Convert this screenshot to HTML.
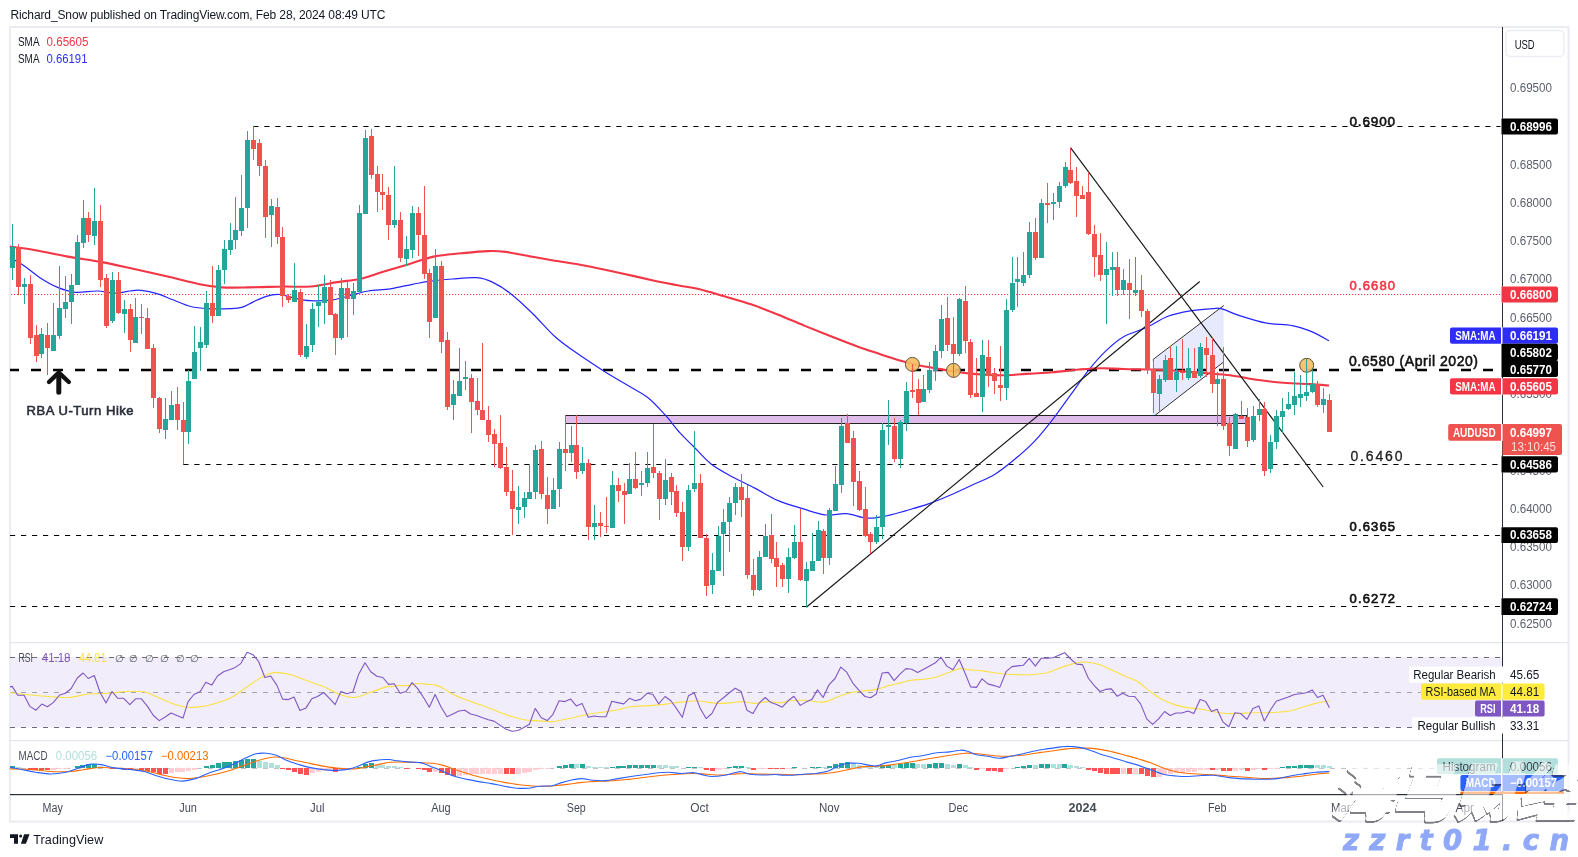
<!DOCTYPE html>
<html><head><meta charset="utf-8"><title>AUDUSD chart</title>
<style>html,body{margin:0;padding:0;background:#fff}body{width:1578px;height:857px;position:relative;overflow:hidden;font-family:"Liberation Sans", Arial, sans-serif}</style></head>
<body>
<svg width="1578" height="857" viewBox="0 0 1578 857" style="position:absolute;left:0;top:0;will-change:transform;opacity:0.9999;font-family:'Liberation Sans', Arial, sans-serif">
<rect x="0" y="0" width="1578" height="857" fill="#fff"/>
<rect x="10" y="27" width="1558.5" height="794.5" fill="none" stroke="#ebecf3" stroke-width="2"/>
<rect x="10" y="642" width="1558" height="1.2" fill="#e3e5ec"/>
<rect x="10" y="740" width="1558" height="1.2" fill="#e3e5ec"/>
<rect x="11" y="657" width="1491" height="70.5" fill="#f1edfa"/>
<line x1="10" y1="657.5" x2="1502" y2="657.5" stroke="#6a6d78" stroke-width="1.1" stroke-dasharray="5 6"/>
<line x1="10" y1="692.5" x2="1502" y2="692.5" stroke="#9fa2ab" stroke-width="1.1" stroke-dasharray="5 6"/>
<line x1="10" y1="727.5" x2="1502" y2="727.5" stroke="#6a6d78" stroke-width="1.1" stroke-dasharray="5 6"/>
<path d="M10.1,692.5 C12.7,692.8 19.4,693.9 25.3,694.5 C31.3,695.1 38.4,695.8 45.6,696.3 C52.8,696.8 61.3,697.9 68.4,697.5 C75.6,697.2 82.0,694.7 88.7,694.0 C95.5,693.3 102.7,693.7 109.0,693.2 C115.3,692.8 120.8,691.7 126.7,691.5 C132.7,691.2 139.4,691.0 144.5,692.0 C149.6,692.9 152.5,695.1 157.2,697.0 C161.8,698.9 167.3,701.7 172.4,703.4 C177.4,705.1 182.5,706.7 187.6,707.2 C192.6,707.7 197.7,707.2 202.8,706.4 C207.9,705.7 213.4,704.0 218.0,702.6 C222.6,701.2 226.4,700.0 230.7,697.8 C234.9,695.6 239.1,692.3 243.3,689.4 C247.6,686.6 252.2,683.0 256.0,680.6 C259.8,678.1 262.8,676.3 266.2,675.0 C269.5,673.6 272.1,672.4 276.3,672.4 C280.5,672.4 286.4,673.6 291.5,675.0 C296.6,676.3 301.2,678.6 306.7,680.6 C312.2,682.5 319.0,684.6 324.5,686.9 C330.0,689.2 334.6,692.7 339.7,694.5 C344.7,696.3 349.8,697.9 354.9,697.5 C359.9,697.2 364.6,694.3 370.1,692.5 C375.6,690.6 384.5,687.3 387.8,686.4 C391.2,685.5 388.4,687.0 390.0,686.9 C391.6,686.8 394.6,685.8 397.6,685.6 C400.6,685.4 404.4,686.0 407.7,685.6 C411.1,685.3 414.5,683.8 417.9,683.6 C421.3,683.4 425.1,684.1 428.0,684.4 C431.0,684.6 433.1,684.5 435.6,685.1 C438.2,685.8 440.7,686.8 443.2,688.2 C445.8,689.5 447.5,691.5 450.8,693.2 C454.2,695.0 459.3,697.1 463.5,698.8 C467.7,700.5 472.0,701.9 476.2,703.4 C480.4,704.9 484.6,706.3 488.9,707.9 C493.1,709.5 497.3,711.4 501.5,713.0 C505.8,714.6 510.4,716.2 514.2,717.3 C518.0,718.5 521.0,719.3 524.3,719.8 C527.7,720.4 531.1,720.4 534.5,720.6 C537.9,720.8 541.7,720.9 544.6,721.1 C547.6,721.3 549.3,721.8 552.2,721.6 C555.2,721.4 559.0,720.5 562.4,719.8 C565.7,719.2 569.1,718.5 572.5,717.8 C575.9,717.1 579.3,716.3 582.6,715.5 C586.0,714.8 589.0,714.1 592.8,713.5 C596.6,712.9 601.2,712.4 605.5,711.7 C609.7,711.1 613.9,710.6 618.1,709.7 C622.4,708.9 626.6,707.3 630.8,706.7 C635.0,706.0 639.3,706.2 643.5,705.9 C647.7,705.7 652.4,705.4 656.2,705.1 C660.0,704.9 662.9,704.6 666.3,704.1 C669.7,703.7 673.1,703.0 676.4,702.6 C679.8,702.2 683.2,701.9 686.6,701.6 C690.0,701.3 693.3,700.8 696.7,700.8 C700.1,700.9 703.5,701.7 706.9,702.1 C710.2,702.5 713.2,703.2 717.0,703.4 C720.8,703.5 725.4,703.2 729.7,702.9 C733.9,702.6 738.1,701.5 742.3,701.6 C746.6,701.7 750.8,703.4 755.0,703.4 C759.2,703.4 763.5,701.7 767.7,701.6 C771.9,701.5 776.4,703.0 780.2,702.9 C783.9,702.7 785.9,701.3 790.1,700.8 C794.3,700.4 799.9,700.1 805.3,700.3 C810.8,700.5 818.0,702.5 823.1,702.1 C828.2,701.7 831.5,699.3 835.8,697.8 C840.0,696.3 844.2,694.3 848.4,693.2 C852.7,692.1 856.5,691.8 861.1,691.2 C865.8,690.6 871.7,690.4 876.3,689.4 C881.0,688.5 884.8,686.8 889.0,685.6 C893.2,684.5 897.9,683.5 901.7,682.6 C905.5,681.7 908.0,680.6 911.8,680.1 C915.6,679.5 920.7,679.7 924.5,679.3 C928.3,678.9 930.8,678.6 934.6,677.5 C938.4,676.5 943.1,674.4 947.3,673.0 C951.5,671.5 956.2,669.2 960.0,668.6 C963.8,668.1 966.3,669.5 970.1,669.9 C973.9,670.3 978.6,670.4 982.8,670.9 C987.0,671.4 991.2,672.4 995.5,673.0 C999.7,673.5 1003.5,673.9 1008.1,674.2 C1012.8,674.5 1018.7,674.7 1023.3,674.7 C1028.0,674.7 1032.2,674.5 1036.0,674.2 C1039.8,673.9 1042.4,673.9 1046.2,673.0 C1050.0,672.0 1054.6,669.9 1058.8,668.4 C1063.1,666.9 1067.7,665.1 1071.5,664.1 C1075.3,663.0 1078.3,662.3 1081.6,662.1 C1085.0,661.8 1088.7,662.3 1091.8,662.8 C1094.8,663.3 1096.5,663.6 1100.0,664.8 C1103.5,666.1 1108.4,668.5 1112.7,670.4 C1116.9,672.3 1121.1,674.3 1125.3,676.2 C1129.6,678.1 1133.8,679.2 1138.0,681.8 C1142.2,684.4 1146.5,688.9 1150.7,692.0 C1154.9,695.0 1159.1,697.9 1163.4,700.1 C1167.6,702.3 1171.8,703.8 1176.0,705.1 C1180.3,706.5 1184.5,707.3 1188.7,707.9 C1192.9,708.6 1197.2,708.6 1201.4,709.2 C1205.6,709.8 1209.8,711.0 1214.1,711.7 C1218.3,712.5 1222.5,713.2 1226.7,713.5 C1231.0,713.8 1235.2,713.6 1239.4,713.5 C1243.6,713.4 1247.9,712.9 1252.1,712.8 C1256.3,712.6 1260.5,712.8 1264.8,712.8 C1269.0,712.7 1273.2,712.5 1277.4,712.2 C1281.7,711.9 1285.9,711.8 1290.1,711.0 C1294.3,710.1 1298.6,708.4 1302.8,707.2 C1307.0,705.9 1311.0,704.4 1315.5,703.4 C1319.9,702.3 1327.1,701.3 1329.4,700.8" fill="none" stroke="#fbe242" stroke-width="1.1"/>
<polyline points="10.1,686.9 12.2,686.4 17.7,695.3 24.1,695.3 29.9,706.4 36.0,710.2 41.8,704.1 47.4,706.7 53.2,702.6 59.6,695.0 65.4,693.2 71.0,688.7 77.3,678.0 83.1,673.0 88.2,678.5 94.3,675.5 100.1,692.5 106.0,702.9 112.0,691.5 117.9,698.3 123.7,698.3 129.8,704.6 135.6,698.8 141.4,698.8 147.5,706.4 153.4,715.5 159.2,720.6 164.8,717.3 171.1,713.0 176.9,715.5 183.0,718.1 188.1,701.6 193.9,694.5 200.3,691.5 205.8,682.3 211.7,685.1 217.5,676.0 223.6,671.7 229.4,669.7 235.2,667.4 240.8,663.6 247.1,652.2 253.0,654.7 258.6,661.5 264.9,677.5 270.7,676.0 276.8,685.1 282.6,699.1 288.5,699.6 294.0,697.0 299.9,710.5 306.0,707.9 311.8,698.8 317.6,696.5 323.7,692.5 329.5,698.3 335.1,704.6 340.9,691.5 346.8,693.7 352.9,692.0 358.7,674.2 365.0,662.8 370.8,671.7 376.9,676.2 382.8,677.5 388.6,684.4 394.2,683.7 400.1,693.2 406.0,691.5 412.1,682.6 417.9,688.9 423.7,697.8 429.3,707.2 435.1,694.5 441.2,707.2 447.0,716.8 452.9,714.0 458.9,711.0 464.8,710.2 470.6,714.0 476.7,715.5 482.5,717.8 488.4,719.8 493.9,721.1 500.3,725.4 506.1,729.2 512.2,731.3 518.0,730.5 523.8,727.5 529.4,724.2 535.2,708.4 541.3,717.8 547.2,720.6 553.0,714.3 559.1,700.8 564.9,701.6 570.7,699.1 576.3,705.9 582.1,703.4 588.2,717.3 594.1,716.0 599.9,716.8 606.0,716.8 611.8,701.3 617.6,702.6 623.7,703.9 629.5,698.3 635.4,700.8 641.0,699.1 647.3,693.2 652.9,694.5 658.7,703.9 665.0,696.5 670.9,700.8 676.4,708.4 682.3,717.3 688.4,695.8 694.2,692.7 700.0,707.9 706.1,718.6 711.9,713.5 717.8,702.1 723.8,697.5 729.7,692.5 735.2,688.2 741.1,691.5 746.9,710.2 753.0,713.5 758.8,703.4 765.2,697.5 771.0,702.6 776.6,704.6 782.2,707.2 788.1,700.8 793.9,696.3 800.3,705.4 805.9,702.1 811.7,699.6 817.5,689.9 823.1,697.5 828.9,684.9 835.0,678.5 840.8,667.1 846.7,672.2 852.8,683.1 858.6,689.9 864.9,696.5 870.5,697.8 876.3,694.0 882.2,673.0 888.2,672.4 894.1,680.6 899.9,674.2 906.0,668.6 911.8,669.2 917.6,672.4 923.7,669.2 929.6,665.9 935.4,662.8 941.0,657.2 946.8,666.1 952.9,669.7 959.2,659.5 965.0,673.0 970.6,686.9 976.5,687.4 982.0,678.8 987.9,683.9 994.2,685.6 999.8,687.4 1006.1,671.7 1011.9,666.6 1017.8,665.9 1023.3,665.3 1029.2,658.3 1035.3,666.1 1041.1,658.3 1046.9,658.3 1053.0,657.7 1058.8,655.2 1064.7,652.7 1070.7,659.0 1076.6,664.1 1082.4,664.6 1088.5,678.5 1094.3,685.6 1100.0,691.5 1105.6,689.4 1111.4,688.9 1117.2,696.3 1122.8,693.2 1128.6,696.3 1134.7,696.5 1140.6,703.9 1146.9,719.1 1152.7,724.4 1158.8,718.6 1164.6,711.5 1170.2,715.5 1176.0,713.0 1181.9,713.0 1188.0,711.0 1193.8,713.5 1200.1,699.6 1205.7,701.6 1211.5,711.5 1217.1,709.2 1222.9,721.9 1228.8,726.7 1234.9,712.8 1240.7,713.5 1247.0,719.3 1252.9,708.4 1258.9,705.9 1264.3,721.1 1270.3,710.2 1276.2,701.3 1282.5,699.1 1288.3,697.0 1294.4,694.5 1300.3,693.7 1306.1,692.7 1312.2,689.9 1317.5,697.5 1323.1,695.3 1329.4,707.7" fill="none" stroke="#7e57c2" stroke-width="1.1" stroke-linejoin="round"/>
<line x1="10" y1="768.4" x2="1502" y2="768.4" stroke="#b8bbc4" stroke-width="1" stroke-dasharray="5 6"/>
<g shape-rendering="crispEdges">
<rect x="10" y="766.4" width="5" height="2.0" fill="#26a69a"/>
<rect x="16" y="767.1" width="5" height="1.3" fill="#b2dfdb"/>
<rect x="22" y="767.6" width="5" height="0.8" fill="#b2dfdb"/>
<rect x="28" y="768.4" width="5" height="1.3" fill="#ff5252"/>
<rect x="33" y="768.4" width="5" height="2.0" fill="#ff5252"/>
<rect x="39" y="768.4" width="5" height="2.0" fill="#ff5252"/>
<rect x="45" y="768.4" width="5" height="2.0" fill="#ff5252"/>
<rect x="51" y="768.4" width="5" height="1.5" fill="#ffcdd2"/>
<rect x="57" y="768.4" width="5" height="1.0" fill="#ffcdd2"/>
<rect x="63" y="768.4" width="5" height="0.6" fill="#ffcdd2"/>
<rect x="69" y="767.6" width="5" height="0.8" fill="#26a69a"/>
<rect x="75" y="766.4" width="5" height="2.0" fill="#26a69a"/>
<rect x="80" y="764.6" width="5" height="3.8" fill="#26a69a"/>
<rect x="86" y="764.1" width="5" height="4.3" fill="#26a69a"/>
<rect x="92" y="764.3" width="5" height="4.1" fill="#26a69a"/>
<rect x="98" y="766.4" width="5" height="2.0" fill="#b2dfdb"/>
<rect x="104" y="767.6" width="5" height="0.8" fill="#b2dfdb"/>
<rect x="110" y="768.4" width="5" height="0.6" fill="#ff5252"/>
<rect x="116" y="768.4" width="5" height="0.8" fill="#ff5252"/>
<rect x="122" y="768.4" width="5" height="1.3" fill="#ff5252"/>
<rect x="128" y="768.4" width="5" height="2.0" fill="#ff5252"/>
<rect x="133" y="768.4" width="5" height="1.3" fill="#ffcdd2"/>
<rect x="139" y="768.4" width="5" height="2.0" fill="#ff5252"/>
<rect x="145" y="768.4" width="5" height="2.5" fill="#ff5252"/>
<rect x="151" y="768.4" width="5" height="3.8" fill="#ff5252"/>
<rect x="157" y="768.4" width="5" height="5.6" fill="#ff5252"/>
<rect x="163" y="768.4" width="5" height="5.1" fill="#ff5252"/>
<rect x="169" y="768.4" width="5" height="4.6" fill="#ffcdd2"/>
<rect x="175" y="768.4" width="5" height="3.8" fill="#ffcdd2"/>
<rect x="180" y="768.4" width="5" height="3.3" fill="#ffcdd2"/>
<rect x="186" y="768.4" width="5" height="2.5" fill="#ffcdd2"/>
<rect x="192" y="768.4" width="5" height="1.3" fill="#ffcdd2"/>
<rect x="198" y="767.6" width="5" height="0.8" fill="#26a69a"/>
<rect x="204" y="765.9" width="5" height="2.5" fill="#26a69a"/>
<rect x="210" y="764.6" width="5" height="3.8" fill="#26a69a"/>
<rect x="216" y="763.3" width="5" height="5.1" fill="#26a69a"/>
<rect x="222" y="762.3" width="5" height="6.1" fill="#26a69a"/>
<rect x="227" y="761.6" width="5" height="6.8" fill="#26a69a"/>
<rect x="233" y="760.8" width="5" height="7.6" fill="#26a69a"/>
<rect x="239" y="760.0" width="5" height="8.4" fill="#26a69a"/>
<rect x="245" y="759.0" width="5" height="9.4" fill="#26a69a"/>
<rect x="251" y="759.0" width="5" height="9.4" fill="#26a69a"/>
<rect x="257" y="761.3" width="5" height="7.1" fill="#b2dfdb"/>
<rect x="263" y="762.1" width="5" height="6.3" fill="#b2dfdb"/>
<rect x="269" y="763.3" width="5" height="5.1" fill="#b2dfdb"/>
<rect x="275" y="765.4" width="5" height="3.0" fill="#b2dfdb"/>
<rect x="280" y="768.4" width="5" height="0.8" fill="#ff5252"/>
<rect x="286" y="768.4" width="5" height="2.0" fill="#ff5252"/>
<rect x="292" y="768.4" width="5" height="3.3" fill="#ff5252"/>
<rect x="298" y="768.4" width="5" height="5.1" fill="#ff5252"/>
<rect x="304" y="768.4" width="5" height="6.3" fill="#ff5252"/>
<rect x="310" y="768.4" width="5" height="4.6" fill="#ffcdd2"/>
<rect x="316" y="768.4" width="5" height="3.8" fill="#ffcdd2"/>
<rect x="322" y="768.4" width="5" height="2.5" fill="#ffcdd2"/>
<rect x="327" y="768.4" width="5" height="2.5" fill="#ffcdd2"/>
<rect x="333" y="768.4" width="5" height="3.3" fill="#ff5252"/>
<rect x="339" y="768.4" width="5" height="1.8" fill="#ffcdd2"/>
<rect x="345" y="768.4" width="5" height="1.3" fill="#ffcdd2"/>
<rect x="351" y="768.4" width="5" height="0.8" fill="#ffcdd2"/>
<rect x="357" y="767.1" width="5" height="1.3" fill="#26a69a"/>
<rect x="363" y="764.1" width="5" height="4.3" fill="#26a69a"/>
<rect x="369" y="763.3" width="5" height="5.1" fill="#26a69a"/>
<rect x="375" y="764.6" width="5" height="3.8" fill="#b2dfdb"/>
<rect x="380" y="765.4" width="5" height="3.0" fill="#b2dfdb"/>
<rect x="386" y="765.9" width="5" height="2.5" fill="#b2dfdb"/>
<rect x="392" y="766.4" width="5" height="2.0" fill="#b2dfdb"/>
<rect x="398" y="767.1" width="5" height="1.3" fill="#b2dfdb"/>
<rect x="404" y="768.4" width="5" height="0.6" fill="#ff5252"/>
<rect x="410" y="767.8" width="5" height="0.6" fill="#26a69a"/>
<rect x="416" y="768.4" width="5" height="0.6" fill="#ff5252"/>
<rect x="422" y="768.4" width="5" height="1.3" fill="#ff5252"/>
<rect x="427" y="768.4" width="5" height="3.8" fill="#ff5252"/>
<rect x="433" y="768.4" width="5" height="3.3" fill="#ffcdd2"/>
<rect x="439" y="768.4" width="5" height="4.6" fill="#ff5252"/>
<rect x="445" y="768.4" width="5" height="6.8" fill="#ff5252"/>
<rect x="451" y="768.4" width="5" height="7.6" fill="#ff5252"/>
<rect x="457" y="768.4" width="5" height="7.1" fill="#ffcdd2"/>
<rect x="463" y="768.4" width="5" height="6.3" fill="#ffcdd2"/>
<rect x="469" y="768.4" width="5" height="5.6" fill="#ffcdd2"/>
<rect x="474" y="768.4" width="5" height="5.6" fill="#ffcdd2"/>
<rect x="480" y="768.4" width="5" height="5.6" fill="#ffcdd2"/>
<rect x="486" y="768.4" width="5" height="5.6" fill="#ffcdd2"/>
<rect x="492" y="768.4" width="5" height="5.6" fill="#ffcdd2"/>
<rect x="498" y="768.4" width="5" height="5.6" fill="#ffcdd2"/>
<rect x="504" y="768.4" width="5" height="5.8" fill="#ff5252"/>
<rect x="510" y="768.4" width="5" height="5.6" fill="#ff5252"/>
<rect x="516" y="768.4" width="5" height="5.1" fill="#ffcdd2"/>
<rect x="522" y="768.4" width="5" height="4.3" fill="#ffcdd2"/>
<rect x="527" y="768.4" width="5" height="3.3" fill="#ffcdd2"/>
<rect x="533" y="768.4" width="5" height="1.3" fill="#ffcdd2"/>
<rect x="539" y="768.4" width="5" height="0.6" fill="#ffcdd2"/>
<rect x="545" y="768.4" width="5" height="0.6" fill="#ffcdd2"/>
<rect x="551" y="767.8" width="5" height="0.6" fill="#26a69a"/>
<rect x="557" y="765.9" width="5" height="2.5" fill="#26a69a"/>
<rect x="563" y="765.1" width="5" height="3.3" fill="#26a69a"/>
<rect x="569" y="763.8" width="5" height="4.6" fill="#26a69a"/>
<rect x="574" y="764.1" width="5" height="4.3" fill="#b2dfdb"/>
<rect x="580" y="763.8" width="5" height="4.6" fill="#26a69a"/>
<rect x="586" y="765.9" width="5" height="2.5" fill="#b2dfdb"/>
<rect x="592" y="767.1" width="5" height="1.3" fill="#b2dfdb"/>
<rect x="598" y="767.1" width="5" height="1.3" fill="#b2dfdb"/>
<rect x="604" y="767.4" width="5" height="1.0" fill="#b2dfdb"/>
<rect x="610" y="766.6" width="5" height="1.8" fill="#26a69a"/>
<rect x="616" y="765.9" width="5" height="2.5" fill="#26a69a"/>
<rect x="621" y="765.9" width="5" height="2.5" fill="#26a69a"/>
<rect x="627" y="764.9" width="5" height="3.5" fill="#26a69a"/>
<rect x="633" y="764.9" width="5" height="3.5" fill="#26a69a"/>
<rect x="639" y="764.9" width="5" height="3.5" fill="#26a69a"/>
<rect x="645" y="764.9" width="5" height="3.5" fill="#26a69a"/>
<rect x="651" y="764.9" width="5" height="3.5" fill="#26a69a"/>
<rect x="657" y="765.1" width="5" height="3.3" fill="#b2dfdb"/>
<rect x="663" y="765.1" width="5" height="3.3" fill="#b2dfdb"/>
<rect x="669" y="765.9" width="5" height="2.5" fill="#b2dfdb"/>
<rect x="674" y="765.9" width="5" height="2.5" fill="#b2dfdb"/>
<rect x="680" y="767.6" width="5" height="0.8" fill="#b2dfdb"/>
<rect x="686" y="766.9" width="5" height="1.5" fill="#26a69a"/>
<rect x="692" y="766.9" width="5" height="1.5" fill="#26a69a"/>
<rect x="698" y="767.1" width="5" height="1.3" fill="#b2dfdb"/>
<rect x="704" y="768.4" width="5" height="1.5" fill="#ff5252"/>
<rect x="710" y="768.4" width="5" height="2.5" fill="#ff5252"/>
<rect x="716" y="768.4" width="5" height="1.3" fill="#ffcdd2"/>
<rect x="721" y="768.4" width="5" height="0.6" fill="#ffcdd2"/>
<rect x="727" y="766.9" width="5" height="1.5" fill="#26a69a"/>
<rect x="733" y="765.9" width="5" height="2.5" fill="#26a69a"/>
<rect x="739" y="765.9" width="5" height="2.5" fill="#26a69a"/>
<rect x="745" y="766.9" width="5" height="1.5" fill="#b2dfdb"/>
<rect x="751" y="768.4" width="5" height="1.5" fill="#ff5252"/>
<rect x="757" y="768.4" width="5" height="0.8" fill="#ffcdd2"/>
<rect x="763" y="768.4" width="5" height="0.6" fill="#ffcdd2"/>
<rect x="768" y="768.4" width="5" height="0.8" fill="#ff5252"/>
<rect x="774" y="768.4" width="5" height="0.8" fill="#ff5252"/>
<rect x="780" y="768.4" width="5" height="0.8" fill="#ff5252"/>
<rect x="786" y="768.4" width="5" height="0.6" fill="#ffcdd2"/>
<rect x="792" y="766.9" width="5" height="1.5" fill="#26a69a"/>
<rect x="798" y="767.8" width="5" height="0.6" fill="#b2dfdb"/>
<rect x="804" y="767.6" width="5" height="0.8" fill="#26a69a"/>
<rect x="810" y="766.9" width="5" height="1.5" fill="#26a69a"/>
<rect x="816" y="766.9" width="5" height="1.5" fill="#26a69a"/>
<rect x="821" y="766.9" width="5" height="1.5" fill="#b2dfdb"/>
<rect x="827" y="765.9" width="5" height="2.5" fill="#26a69a"/>
<rect x="833" y="763.8" width="5" height="4.6" fill="#26a69a"/>
<rect x="839" y="762.6" width="5" height="5.8" fill="#26a69a"/>
<rect x="845" y="761.6" width="5" height="6.8" fill="#26a69a"/>
<rect x="851" y="762.8" width="5" height="5.6" fill="#b2dfdb"/>
<rect x="857" y="764.6" width="5" height="3.8" fill="#b2dfdb"/>
<rect x="863" y="765.9" width="5" height="2.5" fill="#b2dfdb"/>
<rect x="868" y="767.1" width="5" height="1.3" fill="#b2dfdb"/>
<rect x="874" y="767.1" width="5" height="1.3" fill="#b2dfdb"/>
<rect x="880" y="765.1" width="5" height="3.3" fill="#26a69a"/>
<rect x="886" y="764.6" width="5" height="3.8" fill="#26a69a"/>
<rect x="892" y="765.1" width="5" height="3.3" fill="#b2dfdb"/>
<rect x="898" y="763.8" width="5" height="4.6" fill="#26a69a"/>
<rect x="904" y="763.3" width="5" height="5.1" fill="#26a69a"/>
<rect x="910" y="762.6" width="5" height="5.8" fill="#26a69a"/>
<rect x="915" y="763.8" width="5" height="4.6" fill="#b2dfdb"/>
<rect x="921" y="763.8" width="5" height="4.6" fill="#b2dfdb"/>
<rect x="927" y="763.8" width="5" height="4.6" fill="#26a69a"/>
<rect x="933" y="763.3" width="5" height="5.1" fill="#26a69a"/>
<rect x="939" y="762.6" width="5" height="5.8" fill="#26a69a"/>
<rect x="945" y="763.8" width="5" height="4.6" fill="#b2dfdb"/>
<rect x="951" y="764.6" width="5" height="3.8" fill="#b2dfdb"/>
<rect x="957" y="763.6" width="5" height="4.8" fill="#26a69a"/>
<rect x="963" y="764.9" width="5" height="3.5" fill="#b2dfdb"/>
<rect x="968" y="767.1" width="5" height="1.3" fill="#b2dfdb"/>
<rect x="974" y="768.4" width="5" height="1.3" fill="#ff5252"/>
<rect x="980" y="768.4" width="5" height="1.0" fill="#ffcdd2"/>
<rect x="986" y="768.4" width="5" height="2.3" fill="#ff5252"/>
<rect x="992" y="768.4" width="5" height="2.3" fill="#ff5252"/>
<rect x="998" y="768.4" width="5" height="3.3" fill="#ff5252"/>
<rect x="1004" y="768.4" width="5" height="1.0" fill="#ffcdd2"/>
<rect x="1010" y="767.8" width="5" height="0.6" fill="#26a69a"/>
<rect x="1015" y="766.9" width="5" height="1.5" fill="#26a69a"/>
<rect x="1021" y="765.9" width="5" height="2.5" fill="#26a69a"/>
<rect x="1027" y="764.9" width="5" height="3.5" fill="#26a69a"/>
<rect x="1033" y="765.4" width="5" height="3.0" fill="#b2dfdb"/>
<rect x="1039" y="763.6" width="5" height="4.8" fill="#26a69a"/>
<rect x="1045" y="763.6" width="5" height="4.8" fill="#26a69a"/>
<rect x="1051" y="763.8" width="5" height="4.6" fill="#b2dfdb"/>
<rect x="1057" y="763.8" width="5" height="4.6" fill="#b2dfdb"/>
<rect x="1062" y="763.6" width="5" height="4.8" fill="#26a69a"/>
<rect x="1068" y="764.9" width="5" height="3.5" fill="#b2dfdb"/>
<rect x="1074" y="766.1" width="5" height="2.3" fill="#b2dfdb"/>
<rect x="1080" y="767.1" width="5" height="1.3" fill="#b2dfdb"/>
<rect x="1086" y="768.4" width="5" height="1.3" fill="#ff5252"/>
<rect x="1092" y="768.4" width="5" height="2.3" fill="#ff5252"/>
<rect x="1098" y="768.4" width="5" height="4.6" fill="#ff5252"/>
<rect x="1104" y="768.4" width="5" height="5.6" fill="#ff5252"/>
<rect x="1110" y="768.4" width="5" height="5.6" fill="#ff5252"/>
<rect x="1115" y="768.4" width="5" height="5.6" fill="#ff5252"/>
<rect x="1121" y="768.4" width="5" height="5.1" fill="#ffcdd2"/>
<rect x="1127" y="768.4" width="5" height="5.6" fill="#ff5252"/>
<rect x="1133" y="768.4" width="5" height="5.1" fill="#ffcdd2"/>
<rect x="1139" y="768.4" width="5" height="5.6" fill="#ff5252"/>
<rect x="1145" y="768.4" width="5" height="7.6" fill="#ff5252"/>
<rect x="1151" y="768.4" width="5" height="8.6" fill="#ff5252"/>
<rect x="1157" y="768.4" width="5" height="8.4" fill="#ffcdd2"/>
<rect x="1162" y="768.4" width="5" height="6.3" fill="#ffcdd2"/>
<rect x="1168" y="768.4" width="5" height="5.1" fill="#ffcdd2"/>
<rect x="1174" y="768.4" width="5" height="4.6" fill="#ffcdd2"/>
<rect x="1180" y="768.4" width="5" height="4.6" fill="#ffcdd2"/>
<rect x="1186" y="768.4" width="5" height="3.8" fill="#ffcdd2"/>
<rect x="1192" y="768.4" width="5" height="3.3" fill="#ffcdd2"/>
<rect x="1198" y="768.4" width="5" height="2.0" fill="#ffcdd2"/>
<rect x="1204" y="768.4" width="5" height="1.3" fill="#ffcdd2"/>
<rect x="1210" y="768.4" width="5" height="1.5" fill="#ff5252"/>
<rect x="1215" y="768.4" width="5" height="1.3" fill="#ffcdd2"/>
<rect x="1221" y="768.4" width="5" height="2.5" fill="#ff5252"/>
<rect x="1227" y="768.4" width="5" height="2.5" fill="#ff5252"/>
<rect x="1233" y="768.4" width="5" height="2.3" fill="#ffcdd2"/>
<rect x="1239" y="768.4" width="5" height="2.0" fill="#ffcdd2"/>
<rect x="1245" y="768.4" width="5" height="2.5" fill="#ff5252"/>
<rect x="1251" y="768.4" width="5" height="1.3" fill="#ffcdd2"/>
<rect x="1257" y="768.4" width="5" height="0.8" fill="#ffcdd2"/>
<rect x="1262" y="768.4" width="5" height="1.5" fill="#ff5252"/>
<rect x="1268" y="768.4" width="5" height="1.0" fill="#ffcdd2"/>
<rect x="1274" y="768.4" width="5" height="0.6" fill="#ffcdd2"/>
<rect x="1280" y="767.4" width="5" height="1.0" fill="#26a69a"/>
<rect x="1286" y="766.4" width="5" height="2.0" fill="#26a69a"/>
<rect x="1292" y="765.9" width="5" height="2.5" fill="#26a69a"/>
<rect x="1298" y="765.1" width="5" height="3.3" fill="#26a69a"/>
<rect x="1304" y="765.1" width="5" height="3.3" fill="#26a69a"/>
<rect x="1309" y="765.1" width="5" height="3.3" fill="#26a69a"/>
<rect x="1315" y="765.1" width="5" height="3.3" fill="#b2dfdb"/>
<rect x="1321" y="765.4" width="5" height="3.0" fill="#b2dfdb"/>
<rect x="1327" y="766.4" width="5" height="2.0" fill="#b2dfdb"/>
</g>
<path d="M10.1,768.9 C12.7,769.0 20.3,768.9 25.3,769.2 C30.4,769.4 35.5,770.0 40.6,770.4 C45.6,770.9 50.7,771.5 55.8,771.7 C60.8,771.9 66.3,771.8 71.0,771.5 C75.6,771.1 79.4,770.3 83.7,769.7 C87.9,769.1 92.1,768.0 96.3,767.7 C100.5,767.3 104.8,767.5 109.0,767.7 C113.2,767.8 117.0,768.1 121.7,768.4 C126.3,768.8 131.8,769.1 136.9,769.7 C142.0,770.3 147.4,771.2 152.1,772.2 C156.7,773.2 160.5,774.6 164.8,775.5 C169.0,776.4 173.6,777.3 177.4,777.8 C181.2,778.3 183.8,778.6 187.6,778.6 C191.4,778.5 196.0,777.9 200.3,777.3 C204.5,776.7 208.3,775.8 212.9,774.8 C217.6,773.7 223.5,772.3 228.1,771.0 C232.8,769.6 236.6,768.1 240.8,766.6 C245.0,765.2 249.7,763.3 253.5,762.1 C257.3,760.8 260.2,759.9 263.6,759.0 C267.0,758.2 270.4,757.2 273.8,757.0 C277.1,756.8 280.1,757.1 283.9,757.8 C287.7,758.4 292.4,759.9 296.6,760.8 C300.8,761.7 304.6,762.4 309.3,763.3 C313.9,764.3 319.4,765.5 324.5,766.4 C329.5,767.2 334.6,768.0 339.7,768.4 C344.7,768.8 350.2,769.2 354.9,768.9 C359.5,768.6 363.3,767.4 367.6,766.6 C371.8,765.8 376.5,764.8 380.2,764.1 C384.0,763.4 385.8,762.7 389.9,762.3 C394.1,762.0 400.1,762.0 405.2,762.1 C410.3,762.1 415.8,762.4 420.4,762.6 C425.1,762.8 429.3,762.9 433.1,763.3 C436.9,763.8 439.9,764.4 443.2,765.4 C446.6,766.3 449.6,767.7 453.4,768.9 C457.2,770.2 461.8,771.7 466.0,773.0 C470.3,774.3 474.5,775.6 478.7,776.8 C482.9,777.9 487.2,778.9 491.4,779.8 C495.6,780.8 499.8,781.6 504.1,782.4 C508.3,783.1 512.5,783.8 516.7,784.4 C521.0,784.9 525.2,785.4 529.4,785.7 C533.6,786.0 537.9,786.2 542.1,786.2 C546.3,786.2 550.5,786.0 554.8,785.7 C559.0,785.4 563.2,784.9 567.4,784.4 C571.7,783.9 575.9,783.1 580.1,782.6 C584.3,782.1 588.6,781.9 592.8,781.6 C597.0,781.3 601.2,781.3 605.5,781.1 C609.7,780.9 613.9,780.7 618.1,780.3 C622.4,780.0 626.6,779.5 630.8,779.1 C635.0,778.6 639.3,778.1 643.5,777.5 C647.7,777.0 651.9,776.5 656.2,776.0 C660.4,775.6 664.6,775.1 668.8,774.8 C673.1,774.4 677.3,774.2 681.5,774.0 C685.7,773.8 690.0,773.4 694.2,773.5 C698.4,773.5 702.6,774.0 706.9,774.2 C711.1,774.5 715.3,775.0 719.5,775.0 C723.8,775.0 728.0,774.5 732.2,774.2 C736.4,774.0 740.7,773.5 744.9,773.5 C749.1,773.4 753.3,773.9 757.6,774.0 C761.8,774.1 766.5,774.2 770.2,774.2 C774.0,774.3 775.8,774.2 780.0,774.2 C784.2,774.3 790.1,774.8 795.2,774.8 C800.3,774.8 805.3,774.5 810.4,774.2 C815.5,774.0 821.0,773.9 825.6,773.5 C830.3,773.1 834.1,772.5 838.3,771.7 C842.5,771.0 846.8,769.8 851.0,768.9 C855.2,768.1 859.4,767.1 863.7,766.6 C867.9,766.2 872.1,766.6 876.3,766.4 C880.5,766.1 884.8,765.6 889.0,765.1 C893.2,764.6 897.4,764.0 901.7,763.3 C905.9,762.7 910.1,762.0 914.3,761.3 C918.6,760.6 922.8,759.8 927.0,759.0 C931.2,758.3 935.5,757.7 939.7,757.0 C943.9,756.3 948.1,755.6 952.4,755.0 C956.6,754.3 960.8,753.4 965.0,753.2 C969.3,753.0 973.5,753.4 977.7,753.7 C981.9,754.1 986.2,754.8 990.4,755.2 C994.6,755.7 998.8,756.2 1003.1,756.3 C1007.3,756.3 1011.5,756.0 1015.7,755.7 C1020.0,755.4 1024.2,755.0 1028.4,754.5 C1032.6,753.9 1036.9,753.1 1041.1,752.4 C1045.3,751.8 1049.5,751.3 1053.8,750.7 C1058.0,750.1 1062.2,749.3 1066.4,748.9 C1070.7,748.5 1075.3,748.3 1079.1,748.1 C1082.9,748.0 1085.8,747.9 1089.3,748.1 C1092.7,748.4 1096.0,748.8 1099.9,749.4 C1103.9,750.0 1108.4,751.0 1112.7,751.9 C1116.9,752.9 1121.1,754.1 1125.3,755.2 C1129.6,756.4 1133.8,757.5 1138.0,758.8 C1142.2,760.1 1146.5,761.3 1150.7,762.8 C1154.9,764.4 1159.1,766.4 1163.4,767.9 C1167.6,769.4 1171.8,770.8 1176.0,771.7 C1180.3,772.6 1184.5,773.1 1188.7,773.5 C1192.9,773.9 1197.2,774.0 1201.4,774.2 C1205.6,774.5 1209.8,774.5 1214.1,774.8 C1218.3,775.1 1222.5,775.7 1226.7,776.0 C1231.0,776.4 1235.2,776.5 1239.4,776.8 C1243.6,777.1 1247.9,777.5 1252.1,777.8 C1256.3,778.1 1260.5,778.5 1264.8,778.6 C1269.0,778.6 1273.2,778.3 1277.4,778.1 C1281.7,777.8 1285.9,777.6 1290.1,777.3 C1294.3,777.0 1298.6,776.5 1302.8,776.0 C1307.0,775.5 1311.0,774.8 1315.5,774.2 C1319.9,773.7 1327.1,773.2 1329.4,773.0" fill="none" stroke="#ff6d00" stroke-width="1.1"/>
<path d="M10.1,767.2 C12.3,767.6 18.6,768.8 22.8,769.7 C27.0,770.5 30.8,771.5 35.5,772.2 C40.1,772.9 45.6,774.0 50.7,774.0 C55.8,774.0 61.3,773.2 65.9,772.2 C70.6,771.2 74.4,769.3 78.6,767.9 C82.8,766.6 87.5,764.7 91.3,764.1 C95.1,763.6 97.6,764.0 101.4,764.6 C105.2,765.2 109.0,767.1 114.1,767.9 C119.1,768.8 126.7,769.1 131.8,769.7 C136.9,770.3 140.3,770.4 144.5,771.5 C148.7,772.5 152.9,774.7 157.2,776.0 C161.4,777.3 165.6,778.5 169.8,779.3 C174.1,780.2 178.3,781.2 182.5,781.1 C186.7,781.0 191.0,779.8 195.2,778.6 C199.4,777.3 203.2,775.2 207.9,773.5 C212.5,771.8 218.4,770.1 223.1,768.4 C227.7,766.7 231.9,765.1 235.7,763.3 C239.5,761.6 242.5,759.4 245.9,757.8 C249.3,756.2 252.6,754.5 256.0,753.7 C259.4,753.0 262.8,753.0 266.2,753.2 C269.5,753.5 272.9,754.1 276.3,755.2 C279.7,756.4 282.6,758.7 286.4,760.3 C290.2,761.9 294.9,763.3 299.1,764.6 C303.3,765.9 307.6,767.1 311.8,767.9 C316.0,768.8 320.2,769.3 324.5,769.7 C328.7,770.1 332.9,770.6 337.1,770.4 C341.4,770.3 346.0,769.8 349.8,768.9 C353.6,768.1 357.0,766.5 359.9,765.4 C362.9,764.2 364.6,763.0 367.6,762.1 C370.5,761.2 374.3,760.5 377.7,760.1 C381.1,759.6 385.8,759.6 387.8,759.5 C389.9,759.5 388.4,759.3 390.0,759.5 C391.6,759.8 394.2,760.4 397.6,760.8 C401.0,761.2 406.5,761.8 410.3,762.1 C414.1,762.4 417.0,761.9 420.4,762.6 C423.8,763.3 427.2,765.1 430.6,766.4 C433.9,767.7 436.9,768.8 440.7,770.4 C444.5,772.1 449.1,774.6 453.4,776.0 C457.6,777.5 461.8,778.1 466.0,779.1 C470.3,780.0 474.5,780.8 478.7,781.6 C482.9,782.4 487.2,782.9 491.4,783.6 C495.6,784.4 499.8,785.4 504.1,786.2 C508.3,786.9 512.7,787.9 516.7,788.2 C520.8,788.5 524.3,788.5 528.1,788.2 C532.0,787.9 535.5,786.6 539.6,786.2 C543.6,785.7 548.4,786.3 552.2,785.7 C556.0,785.0 559.0,783.3 562.4,782.4 C565.7,781.4 569.1,780.5 572.5,779.8 C575.9,779.2 579.3,778.5 582.6,778.6 C586.0,778.6 589.0,780.0 592.8,780.3 C596.6,780.7 601.2,780.9 605.5,780.6 C609.7,780.3 613.9,779.2 618.1,778.6 C622.4,777.9 626.6,777.2 630.8,776.5 C635.0,775.9 639.3,775.3 643.5,774.8 C647.7,774.2 651.9,773.4 656.2,773.0 C660.4,772.6 664.6,772.1 668.8,772.2 C673.1,772.3 677.3,773.4 681.5,773.5 C685.7,773.6 690.4,772.4 694.2,772.7 C698.0,773.0 701.4,774.6 704.3,775.3 C707.3,775.9 708.5,776.5 711.9,776.5 C715.3,776.5 720.8,775.9 724.6,775.3 C728.4,774.6 732.0,773.3 734.7,772.7 C737.5,772.1 738.5,771.5 741.1,771.7 C743.6,772.0 746.4,773.7 749.9,774.2 C753.5,774.8 758.4,775.0 762.6,775.0 C766.8,775.1 772.4,774.5 775.3,774.5 C778.2,774.5 777.5,774.9 780.0,775.0 C782.5,775.1 786.3,775.4 790.1,775.3 C793.9,775.1 798.6,774.5 802.8,774.2 C807.0,774.0 811.3,774.0 815.5,773.5 C819.7,772.9 824.4,772.2 828.2,771.0 C832.0,769.7 834.9,767.2 838.3,765.9 C841.7,764.6 845.1,763.8 848.4,763.3 C851.8,762.9 855.2,763.1 858.6,763.3 C862.0,763.6 865.8,764.7 868.7,765.1 C871.7,765.5 873.4,766.3 876.3,765.9 C879.3,765.5 883.1,763.4 886.5,762.6 C889.8,761.7 892.8,761.7 896.6,760.8 C900.4,760.0 905.1,758.4 909.3,757.5 C913.5,756.7 917.3,756.5 922.0,755.7 C926.6,754.9 932.5,753.3 937.2,752.7 C941.8,752.1 946.0,752.4 949.8,751.9 C953.6,751.5 957.0,750.3 960.0,750.2 C962.9,750.0 965.0,750.5 967.6,751.2 C970.1,751.9 971.8,753.6 975.2,754.5 C978.6,755.3 983.8,755.6 987.9,756.3 C991.9,756.9 995.5,758.3 999.3,758.3 C1003.1,758.3 1006.7,757.0 1010.7,756.3 C1014.7,755.5 1019.1,754.6 1023.3,753.7 C1027.6,752.8 1031.8,751.5 1036.0,750.7 C1040.2,749.8 1044.5,749.3 1048.7,748.6 C1052.9,748.0 1058.0,747.3 1061.4,746.9 C1064.7,746.5 1066.0,746.3 1069.0,746.4 C1071.9,746.4 1075.7,746.8 1079.1,747.4 C1082.5,748.0 1085.8,748.8 1089.3,749.9 C1092.7,751.0 1096.0,752.7 1099.9,754.0 C1103.9,755.3 1108.4,756.5 1112.7,757.8 C1116.9,759.0 1121.1,760.3 1125.3,761.6 C1129.6,762.8 1133.8,763.8 1138.0,765.1 C1142.2,766.5 1146.5,768.2 1150.7,769.7 C1154.9,771.2 1159.1,773.2 1163.4,774.2 C1167.6,775.3 1171.8,775.6 1176.0,776.0 C1180.3,776.4 1184.5,776.6 1188.7,776.5 C1192.9,776.4 1197.2,775.7 1201.4,775.5 C1205.6,775.3 1209.8,775.0 1214.1,775.3 C1218.3,775.6 1222.5,776.7 1226.7,777.3 C1231.0,777.8 1235.2,778.3 1239.4,778.6 C1243.6,778.9 1247.9,778.9 1252.1,779.1 C1256.3,779.2 1260.5,779.4 1264.8,779.3 C1269.0,779.2 1273.2,779.1 1277.4,778.6 C1281.7,778.0 1285.9,776.8 1290.1,776.0 C1294.3,775.3 1298.6,774.6 1302.8,774.0 C1307.0,773.4 1311.0,772.6 1315.5,772.2 C1319.9,771.8 1327.1,771.6 1329.4,771.5" fill="none" stroke="#2962ff" stroke-width="1.1"/>
<line x1="11" y1="294.5" x2="1502" y2="294.5" stroke="#f23645" stroke-width="1" stroke-dasharray="1.2 1.8"/>
<line x1="253.3" y1="126.5" x2="1502" y2="126.5" stroke="#000" stroke-width="1.1" stroke-dasharray="5.2 5.8"/>
<line x1="183.3" y1="464.5" x2="1502" y2="464.5" stroke="#000" stroke-width="1.1" stroke-dasharray="5.2 5.8"/>
<line x1="10" y1="535.5" x2="1502" y2="535.5" stroke="#000" stroke-width="1.1" stroke-dasharray="5.2 5.8"/>
<line x1="10" y1="606.5" x2="1502" y2="606.5" stroke="#000" stroke-width="1.1" stroke-dasharray="5.2 5.8"/>
<polygon points="1152.7,359.8 1223.7,305.5 1223.7,361.9 1152.7,417.2" fill="#e6eafc"/>
<line x1="1152.7" y1="359.8" x2="1223.7" y2="305.5" stroke="#333" stroke-width="1"/>
<line x1="1152.7" y1="417.2" x2="1223.7" y2="361.9" stroke="#333" stroke-width="1"/>
<rect x="565.5" y="415.5" width="681" height="8" fill="#dfbce9" stroke="#222" stroke-width="1"/>
<line x1="10" y1="370" x2="1500" y2="370" stroke="#000" stroke-width="2.5" stroke-dasharray="10 12" stroke-dashoffset="1"/>
<path d="M9.8,257.7 C11.8,258.8 17.2,261.0 22.2,264.4 C27.2,267.7 34.0,273.8 39.9,277.7 C45.8,281.5 51.8,285.0 57.7,287.4 C63.6,289.9 68.8,291.7 75.4,292.3 C82.1,292.9 90.9,290.8 97.6,291.0 C104.2,291.1 108.7,293.3 115.3,293.2 C122.0,293.0 130.9,290.1 137.5,290.1 C144.2,290.1 149.3,291.6 155.3,293.2 C161.2,294.8 167.1,297.6 173.0,299.8 C178.9,302.1 184.8,305.0 190.7,306.5 C196.7,308.0 201.8,308.3 208.5,308.7 C215.1,309.1 225.1,308.9 230.7,308.7 C236.2,308.5 238.1,308.5 241.8,307.4 C245.5,306.3 248.8,303.9 252.9,302.1 C256.9,300.2 261.7,297.6 266.2,296.3 C270.6,295.0 275.0,294.3 279.5,294.5 C283.9,294.7 287.6,296.6 292.8,297.6 C297.9,298.7 303.9,300.4 310.5,300.7 C317.2,301.1 326.0,300.7 332.7,299.8 C339.4,299.0 344.5,296.9 350.4,295.4 C356.4,293.9 361.5,292.1 368.2,291.0 C374.8,289.9 383.0,289.9 390.4,288.8 C397.8,287.6 405.9,285.6 412.5,284.3 C419.2,283.1 423.6,282.1 430.3,281.2 C436.9,280.3 444.7,279.6 452.5,279.0 C460.2,278.4 470.2,277.2 476.9,277.7 C483.5,278.2 486.8,279.5 492.4,282.1 C497.9,284.7 503.5,288.0 510.1,293.2 C516.8,298.4 524.9,306.0 532.3,313.2 C539.7,320.3 547.1,329.6 554.5,336.2 C561.9,342.9 568.5,347.3 576.7,353.1 C584.8,358.8 595.2,365.6 603.3,370.8 C611.4,376.0 618.1,379.7 625.5,384.1 C632.9,388.6 641.0,392.3 647.7,397.4 C654.3,402.6 660.0,409.3 665.4,415.2 C670.8,421.1 675.3,427.8 680.0,432.9 C684.7,438.1 688.1,441.1 693.3,446.2 C698.5,451.4 704.4,458.8 711.1,464.0 C717.7,469.2 725.8,473.2 733.2,477.3 C740.6,481.4 748.0,484.5 755.4,488.4 C762.8,492.2 769.5,496.9 777.6,500.4 C785.7,503.8 796.1,506.8 804.2,509.2 C812.3,511.7 819.4,514.3 826.4,515.0 C833.4,515.7 839.7,513.1 846.3,513.7 C853.0,514.2 860.0,517.7 866.3,518.1 C872.6,518.5 877.4,517.6 884.1,516.3 C890.7,515.1 898.8,512.6 906.2,510.6 C913.6,508.5 921.0,506.5 928.4,503.9 C935.8,501.3 943.2,498.2 950.6,495.0 C958.0,491.9 965.4,488.3 972.8,484.8 C980.2,481.4 987.6,478.8 995.0,474.2 C1002.3,469.6 1010.5,462.9 1017.1,457.3 C1023.8,451.8 1029.0,447.2 1034.9,440.9 C1040.8,434.6 1046.7,427.2 1052.6,419.6 C1058.5,412.0 1064.5,403.4 1070.4,395.2 C1076.3,387.1 1082.2,378.2 1088.1,370.8 C1094.0,363.4 1099.9,356.6 1105.9,350.9 C1111.8,345.2 1116.9,340.5 1123.6,336.7 C1130.3,332.8 1138.4,331.2 1145.8,327.8 C1153.2,324.4 1160.6,319.1 1168.0,316.3 C1175.3,313.5 1182.7,312.2 1190.1,310.9 C1197.5,309.7 1207.1,309.1 1212.3,308.7 C1217.5,308.3 1216.8,307.6 1221.2,308.7 C1225.6,309.8 1231.5,313.0 1238.9,315.4 C1246.3,317.7 1256.7,321.2 1265.5,322.9 C1274.4,324.6 1284.8,324.2 1292.2,325.6 C1299.6,326.9 1303.8,328.4 1309.9,330.9 C1316.0,333.4 1325.8,339.0 1329.0,340.7" fill="none" stroke="#2424ff" stroke-width="1.2"/>
<path d="M9.8,246.6 C14.0,247.2 26.0,248.5 35.5,250.2 C45.0,251.8 55.4,254.4 66.5,256.4 C77.6,258.4 90.9,260.1 102.0,262.1 C113.1,264.2 122.0,266.4 133.1,268.8 C144.2,271.2 157.5,274.2 168.6,276.8 C179.7,279.4 190.7,282.5 199.6,284.3 C208.5,286.1 213.7,286.9 221.8,287.4 C229.9,287.9 238.1,287.6 248.4,287.4 C258.8,287.3 273.6,286.7 283.9,286.5 C294.3,286.4 301.6,287.3 310.5,286.5 C319.4,285.8 329.0,283.4 337.1,282.1 C345.3,280.8 351.9,280.6 359.3,279.0 C366.7,277.4 373.4,274.8 381.5,272.3 C389.6,269.9 399.2,267.0 408.1,264.4 C417.0,261.7 425.9,258.2 434.7,256.4 C443.6,254.5 452.5,254.2 461.3,253.3 C470.2,252.4 480.6,251.3 488.0,251.1 C495.3,250.8 498.3,251.0 505.7,251.9 C513.1,252.9 523.4,255.3 532.3,256.8 C541.2,258.4 550.1,259.8 558.9,261.3 C567.8,262.7 575.2,263.7 585.5,265.7 C595.9,267.7 609.2,270.6 621.0,273.2 C632.9,275.8 646.7,279.1 656.5,281.2 C666.4,283.3 673.1,284.4 680.0,285.7 C686.9,286.9 690.4,287.0 697.7,288.8 C705.1,290.5 715.5,293.7 724.4,296.3 C733.2,298.9 742.1,301.3 751.0,304.3 C759.8,307.3 768.7,310.9 777.6,314.5 C786.5,318.0 795.3,322.0 804.2,325.6 C813.1,329.2 822.0,332.7 830.8,336.2 C839.7,339.7 849.3,343.5 857.4,346.4 C865.6,349.4 872.2,351.5 879.6,354.0 C887.0,356.4 895.1,359.1 901.8,361.1 C908.5,363.0 913.6,364.2 919.5,365.5 C925.5,366.8 931.4,367.6 937.3,368.6 C943.2,369.6 949.1,370.8 955.0,371.7 C960.9,372.6 965.4,373.3 972.8,373.9 C980.2,374.5 990.5,375.3 999.4,375.3 C1008.3,375.3 1017.1,374.4 1026.0,373.9 C1034.9,373.4 1043.7,372.9 1052.6,372.2 C1061.5,371.4 1071.1,370.2 1079.2,369.5 C1087.4,368.8 1094.0,368.2 1101.4,368.2 C1108.8,368.1 1115.5,368.8 1123.6,369.0 C1131.7,369.3 1141.3,369.2 1150.2,369.5 C1159.1,369.8 1168.0,370.2 1176.8,370.8 C1185.7,371.4 1194.6,372.3 1203.4,373.0 C1212.3,373.8 1221.2,374.1 1230.1,375.3 C1238.9,376.4 1247.8,378.4 1256.7,379.7 C1265.5,381.0 1274.4,382.1 1283.3,382.8 C1292.2,383.5 1302.3,383.7 1309.9,384.1 C1317.5,384.6 1325.8,385.2 1329.0,385.5" fill="none" stroke="#f23645" stroke-width="2.1"/>
<line x1="806.3" y1="607.2" x2="1199.8" y2="281.5" stroke="#161616" stroke-width="1.15"/>
<line x1="1070.5" y1="147.6" x2="1323.2" y2="487" stroke="#161616" stroke-width="1.15"/>
<circle cx="912.4" cy="364.4" r="7" fill="#f8bd62" fill-opacity="0.92" stroke="#5a5540" stroke-width="1"/>
<circle cx="953.5" cy="370.4" r="7" fill="#f8bd62" fill-opacity="0.92" stroke="#5a5540" stroke-width="1"/>
<circle cx="1306.7" cy="365.3" r="7" fill="#f8bd62" fill-opacity="0.92" stroke="#5a5540" stroke-width="1"/>
<path d="M58.8,392.3 L58.8,374" fill="none" stroke="#111" stroke-width="5" stroke-linecap="round"/><path d="M49,382 L58.8,372.6 L68.8,382" fill="none" stroke="#111" stroke-width="4.4" stroke-linecap="round" stroke-linejoin="miter"/>
<text x="26.6" y="414.8" font-size="13" font-weight="400" fill="#2a2e39" stroke="#2a2e39" stroke-width="0.6" textLength="107" lengthAdjust="spacing">RBA U-Turn Hike</text>
<g shape-rendering="crispEdges">
<rect x="12" y="224" width="1" height="56" fill="#26a69a"/><rect x="10" y="247" width="5" height="21" fill="#26a69a"/>
<rect x="18" y="244" width="1" height="51" fill="#ef5350"/><rect x="16" y="247" width="5" height="40" fill="#ef5350"/>
<rect x="24" y="278" width="1" height="26" fill="#26a69a"/><rect x="22" y="284" width="5" height="3" fill="#26a69a"/>
<rect x="30" y="275" width="1" height="69" fill="#ef5350"/><rect x="28" y="284" width="5" height="54" fill="#ef5350"/>
<rect x="36" y="325" width="1" height="37" fill="#ef5350"/><rect x="34" y="335" width="5" height="21" fill="#ef5350"/>
<rect x="41" y="328" width="1" height="30" fill="#26a69a"/><rect x="39" y="334" width="5" height="20" fill="#26a69a"/>
<rect x="47" y="323" width="1" height="52" fill="#ef5350"/><rect x="45" y="335" width="5" height="13" fill="#ef5350"/>
<rect x="53" y="303" width="1" height="48" fill="#26a69a"/><rect x="51" y="335" width="5" height="16" fill="#26a69a"/>
<rect x="59" y="266" width="1" height="73" fill="#26a69a"/><rect x="57" y="308" width="5" height="28" fill="#26a69a"/>
<rect x="65" y="276" width="1" height="42" fill="#26a69a"/><rect x="63" y="302" width="5" height="7" fill="#26a69a"/>
<rect x="71" y="274" width="1" height="50" fill="#26a69a"/><rect x="69" y="285" width="5" height="17" fill="#26a69a"/>
<rect x="77" y="235" width="1" height="50" fill="#26a69a"/><rect x="75" y="242" width="5" height="43" fill="#26a69a"/>
<rect x="83" y="200" width="1" height="48" fill="#26a69a"/><rect x="81" y="218" width="5" height="25" fill="#26a69a"/>
<rect x="88" y="212" width="1" height="30" fill="#ef5350"/><rect x="86" y="218" width="5" height="17" fill="#ef5350"/>
<rect x="94" y="188" width="1" height="57" fill="#26a69a"/><rect x="92" y="221" width="5" height="15" fill="#26a69a"/>
<rect x="100" y="205" width="1" height="82" fill="#ef5350"/><rect x="98" y="221" width="5" height="59" fill="#ef5350"/>
<rect x="106" y="274" width="1" height="54" fill="#ef5350"/><rect x="104" y="278" width="5" height="48" fill="#ef5350"/>
<rect x="112" y="272" width="1" height="51" fill="#26a69a"/><rect x="110" y="280" width="5" height="41" fill="#26a69a"/>
<rect x="118" y="272" width="1" height="42" fill="#ef5350"/><rect x="116" y="280" width="5" height="33" fill="#ef5350"/>
<rect x="124" y="300" width="1" height="33" fill="#26a69a"/><rect x="122" y="309" width="5" height="5" fill="#26a69a"/>
<rect x="130" y="304" width="1" height="48" fill="#ef5350"/><rect x="128" y="309" width="5" height="31" fill="#ef5350"/>
<rect x="135" y="298" width="1" height="45" fill="#26a69a"/><rect x="133" y="317" width="5" height="26" fill="#26a69a"/>
<rect x="141" y="304" width="1" height="30" fill="#ef5350"/><rect x="139" y="317" width="5" height="1" fill="#ef5350"/>
<rect x="147" y="308" width="1" height="41" fill="#ef5350"/><rect x="145" y="318" width="5" height="31" fill="#ef5350"/>
<rect x="153" y="344" width="1" height="64" fill="#ef5350"/><rect x="151" y="348" width="5" height="50" fill="#ef5350"/>
<rect x="159" y="397" width="1" height="36" fill="#ef5350"/><rect x="157" y="398" width="5" height="31" fill="#ef5350"/>
<rect x="165" y="398" width="1" height="41" fill="#26a69a"/><rect x="163" y="419" width="5" height="11" fill="#26a69a"/>
<rect x="171" y="391" width="1" height="29" fill="#26a69a"/><rect x="169" y="405" width="5" height="15" fill="#26a69a"/>
<rect x="177" y="387" width="1" height="43" fill="#ef5350"/><rect x="175" y="404" width="5" height="16" fill="#ef5350"/>
<rect x="183" y="402" width="1" height="62" fill="#ef5350"/><rect x="181" y="420" width="5" height="12" fill="#ef5350"/>
<rect x="188" y="370" width="1" height="74" fill="#26a69a"/><rect x="186" y="381" width="5" height="51" fill="#26a69a"/>
<rect x="194" y="326" width="1" height="53" fill="#26a69a"/><rect x="192" y="352" width="5" height="27" fill="#26a69a"/>
<rect x="200" y="327" width="1" height="44" fill="#26a69a"/><rect x="198" y="342" width="5" height="6" fill="#26a69a"/>
<rect x="206" y="291" width="1" height="57" fill="#26a69a"/><rect x="204" y="303" width="5" height="42" fill="#26a69a"/>
<rect x="212" y="266" width="1" height="57" fill="#ef5350"/><rect x="210" y="303" width="5" height="13" fill="#ef5350"/>
<rect x="218" y="265" width="1" height="51" fill="#26a69a"/><rect x="216" y="270" width="5" height="46" fill="#26a69a"/>
<rect x="224" y="240" width="1" height="44" fill="#26a69a"/><rect x="222" y="249" width="5" height="21" fill="#26a69a"/>
<rect x="230" y="223" width="1" height="32" fill="#26a69a"/><rect x="228" y="240" width="5" height="10" fill="#26a69a"/>
<rect x="235" y="197" width="1" height="52" fill="#26a69a"/><rect x="233" y="230" width="5" height="10" fill="#26a69a"/>
<rect x="241" y="175" width="1" height="61" fill="#26a69a"/><rect x="239" y="208" width="5" height="23" fill="#26a69a"/>
<rect x="247" y="131" width="1" height="97" fill="#26a69a"/><rect x="245" y="140" width="5" height="68" fill="#26a69a"/>
<rect x="253" y="126" width="1" height="34" fill="#ef5350"/><rect x="251" y="140" width="5" height="9" fill="#ef5350"/>
<rect x="259" y="139" width="1" height="37" fill="#ef5350"/><rect x="257" y="143" width="5" height="23" fill="#ef5350"/>
<rect x="265" y="160" width="1" height="78" fill="#ef5350"/><rect x="263" y="166" width="5" height="51" fill="#ef5350"/>
<rect x="271" y="199" width="1" height="48" fill="#26a69a"/><rect x="269" y="206" width="5" height="9" fill="#26a69a"/>
<rect x="277" y="198" width="1" height="46" fill="#ef5350"/><rect x="275" y="207" width="5" height="30" fill="#ef5350"/>
<rect x="282" y="227" width="1" height="80" fill="#ef5350"/><rect x="280" y="237" width="5" height="59" fill="#ef5350"/>
<rect x="288" y="294" width="1" height="9" fill="#ef5350"/><rect x="286" y="296" width="5" height="4" fill="#ef5350"/>
<rect x="294" y="263" width="1" height="39" fill="#26a69a"/><rect x="292" y="290" width="5" height="12" fill="#26a69a"/>
<rect x="300" y="289" width="1" height="68" fill="#ef5350"/><rect x="298" y="292" width="5" height="63" fill="#ef5350"/>
<rect x="306" y="324" width="1" height="35" fill="#26a69a"/><rect x="304" y="346" width="5" height="11" fill="#26a69a"/>
<rect x="312" y="303" width="1" height="49" fill="#26a69a"/><rect x="310" y="309" width="5" height="36" fill="#26a69a"/>
<rect x="318" y="285" width="1" height="42" fill="#26a69a"/><rect x="316" y="302" width="5" height="4" fill="#26a69a"/>
<rect x="324" y="275" width="1" height="49" fill="#26a69a"/><rect x="322" y="287" width="5" height="16" fill="#26a69a"/>
<rect x="330" y="280" width="1" height="35" fill="#ef5350"/><rect x="328" y="287" width="5" height="28" fill="#ef5350"/>
<rect x="335" y="313" width="1" height="42" fill="#ef5350"/><rect x="333" y="314" width="5" height="24" fill="#ef5350"/>
<rect x="341" y="278" width="1" height="62" fill="#26a69a"/><rect x="339" y="288" width="5" height="50" fill="#26a69a"/>
<rect x="347" y="282" width="1" height="55" fill="#ef5350"/><rect x="345" y="288" width="5" height="11" fill="#ef5350"/>
<rect x="353" y="283" width="1" height="32" fill="#26a69a"/><rect x="351" y="291" width="5" height="8" fill="#26a69a"/>
<rect x="359" y="205" width="1" height="87" fill="#26a69a"/><rect x="357" y="213" width="5" height="79" fill="#26a69a"/>
<rect x="365" y="130" width="1" height="84" fill="#26a69a"/><rect x="363" y="138" width="5" height="76" fill="#26a69a"/>
<rect x="371" y="129" width="1" height="50" fill="#ef5350"/><rect x="369" y="136" width="5" height="39" fill="#ef5350"/>
<rect x="377" y="166" width="1" height="46" fill="#ef5350"/><rect x="375" y="174" width="5" height="18" fill="#ef5350"/>
<rect x="382" y="174" width="1" height="36" fill="#ef5350"/><rect x="380" y="192" width="5" height="3" fill="#ef5350"/>
<rect x="388" y="187" width="1" height="53" fill="#ef5350"/><rect x="386" y="195" width="5" height="30" fill="#ef5350"/>
<rect x="394" y="166" width="1" height="62" fill="#26a69a"/><rect x="392" y="220" width="5" height="5" fill="#26a69a"/>
<rect x="400" y="212" width="1" height="50" fill="#ef5350"/><rect x="398" y="220" width="5" height="38" fill="#ef5350"/>
<rect x="406" y="236" width="1" height="30" fill="#26a69a"/><rect x="404" y="249" width="5" height="10" fill="#26a69a"/>
<rect x="412" y="206" width="1" height="52" fill="#26a69a"/><rect x="410" y="213" width="5" height="37" fill="#26a69a"/>
<rect x="418" y="207" width="1" height="49" fill="#ef5350"/><rect x="416" y="213" width="5" height="22" fill="#ef5350"/>
<rect x="424" y="186" width="1" height="93" fill="#ef5350"/><rect x="422" y="235" width="5" height="39" fill="#ef5350"/>
<rect x="429" y="269" width="1" height="69" fill="#ef5350"/><rect x="427" y="273" width="5" height="49" fill="#ef5350"/>
<rect x="435" y="249" width="1" height="69" fill="#26a69a"/><rect x="433" y="266" width="5" height="52" fill="#26a69a"/>
<rect x="441" y="261" width="1" height="92" fill="#ef5350"/><rect x="439" y="266" width="5" height="76" fill="#ef5350"/>
<rect x="447" y="332" width="1" height="78" fill="#ef5350"/><rect x="445" y="340" width="5" height="67" fill="#ef5350"/>
<rect x="453" y="380" width="1" height="40" fill="#26a69a"/><rect x="451" y="394" width="5" height="11" fill="#26a69a"/>
<rect x="459" y="348" width="1" height="48" fill="#26a69a"/><rect x="457" y="381" width="5" height="15" fill="#26a69a"/>
<rect x="465" y="361" width="1" height="29" fill="#26a69a"/><rect x="463" y="377" width="5" height="2" fill="#26a69a"/>
<rect x="471" y="374" width="1" height="59" fill="#ef5350"/><rect x="469" y="378" width="5" height="24" fill="#ef5350"/>
<rect x="477" y="378" width="1" height="37" fill="#ef5350"/><rect x="475" y="401" width="5" height="9" fill="#ef5350"/>
<rect x="482" y="343" width="1" height="77" fill="#ef5350"/><rect x="480" y="410" width="5" height="10" fill="#ef5350"/>
<rect x="488" y="406" width="1" height="36" fill="#ef5350"/><rect x="486" y="420" width="5" height="15" fill="#ef5350"/>
<rect x="494" y="429" width="1" height="38" fill="#ef5350"/><rect x="492" y="434" width="5" height="10" fill="#ef5350"/>
<rect x="500" y="415" width="1" height="54" fill="#ef5350"/><rect x="498" y="443" width="5" height="25" fill="#ef5350"/>
<rect x="506" y="447" width="1" height="49" fill="#ef5350"/><rect x="504" y="467" width="5" height="25" fill="#ef5350"/>
<rect x="512" y="470" width="1" height="65" fill="#ef5350"/><rect x="510" y="491" width="5" height="18" fill="#ef5350"/>
<rect x="518" y="486" width="1" height="38" fill="#26a69a"/><rect x="516" y="507" width="5" height="3" fill="#26a69a"/>
<rect x="524" y="492" width="1" height="26" fill="#26a69a"/><rect x="522" y="498" width="5" height="9" fill="#26a69a"/>
<rect x="529" y="464" width="1" height="35" fill="#26a69a"/><rect x="527" y="492" width="5" height="7" fill="#26a69a"/>
<rect x="535" y="445" width="1" height="54" fill="#26a69a"/><rect x="533" y="450" width="5" height="42" fill="#26a69a"/>
<rect x="541" y="441" width="1" height="58" fill="#ef5350"/><rect x="539" y="449" width="5" height="45" fill="#ef5350"/>
<rect x="547" y="477" width="1" height="47" fill="#ef5350"/><rect x="545" y="495" width="5" height="14" fill="#ef5350"/>
<rect x="553" y="478" width="1" height="31" fill="#26a69a"/><rect x="551" y="490" width="5" height="19" fill="#26a69a"/>
<rect x="559" y="442" width="1" height="65" fill="#26a69a"/><rect x="557" y="449" width="5" height="40" fill="#26a69a"/>
<rect x="565" y="415" width="1" height="56" fill="#ef5350"/><rect x="563" y="449" width="5" height="4" fill="#ef5350"/>
<rect x="571" y="426" width="1" height="36" fill="#26a69a"/><rect x="569" y="445" width="5" height="8" fill="#26a69a"/>
<rect x="576" y="415" width="1" height="64" fill="#ef5350"/><rect x="574" y="445" width="5" height="27" fill="#ef5350"/>
<rect x="582" y="447" width="1" height="27" fill="#26a69a"/><rect x="580" y="463" width="5" height="8" fill="#26a69a"/>
<rect x="588" y="459" width="1" height="81" fill="#ef5350"/><rect x="586" y="463" width="5" height="64" fill="#ef5350"/>
<rect x="594" y="505" width="1" height="35" fill="#26a69a"/><rect x="592" y="523" width="5" height="4" fill="#26a69a"/>
<rect x="600" y="512" width="1" height="25" fill="#ef5350"/><rect x="598" y="523" width="5" height="3" fill="#ef5350"/>
<rect x="606" y="497" width="1" height="36" fill="#ef5350"/><rect x="604" y="526" width="5" height="1" fill="#ef5350"/>
<rect x="612" y="471" width="1" height="57" fill="#26a69a"/><rect x="610" y="485" width="5" height="43" fill="#26a69a"/>
<rect x="618" y="478" width="1" height="24" fill="#ef5350"/><rect x="616" y="485" width="5" height="6" fill="#ef5350"/>
<rect x="624" y="483" width="1" height="41" fill="#ef5350"/><rect x="622" y="491" width="5" height="4" fill="#ef5350"/>
<rect x="629" y="463" width="1" height="31" fill="#26a69a"/><rect x="627" y="479" width="5" height="15" fill="#26a69a"/>
<rect x="635" y="452" width="1" height="37" fill="#ef5350"/><rect x="633" y="479" width="5" height="9" fill="#ef5350"/>
<rect x="641" y="471" width="1" height="25" fill="#26a69a"/><rect x="639" y="483" width="5" height="2" fill="#26a69a"/>
<rect x="647" y="452" width="1" height="35" fill="#26a69a"/><rect x="645" y="468" width="5" height="15" fill="#26a69a"/>
<rect x="653" y="424" width="1" height="54" fill="#ef5350"/><rect x="651" y="467" width="5" height="6" fill="#ef5350"/>
<rect x="659" y="471" width="1" height="49" fill="#ef5350"/><rect x="657" y="473" width="5" height="26" fill="#ef5350"/>
<rect x="665" y="459" width="1" height="46" fill="#26a69a"/><rect x="663" y="480" width="5" height="19" fill="#26a69a"/>
<rect x="671" y="473" width="1" height="32" fill="#ef5350"/><rect x="669" y="477" width="5" height="15" fill="#ef5350"/>
<rect x="676" y="485" width="1" height="32" fill="#ef5350"/><rect x="674" y="491" width="5" height="22" fill="#ef5350"/>
<rect x="682" y="502" width="1" height="59" fill="#ef5350"/><rect x="680" y="512" width="5" height="35" fill="#ef5350"/>
<rect x="688" y="485" width="1" height="66" fill="#26a69a"/><rect x="686" y="490" width="5" height="57" fill="#26a69a"/>
<rect x="694" y="431" width="1" height="61" fill="#26a69a"/><rect x="692" y="483" width="5" height="6" fill="#26a69a"/>
<rect x="700" y="474" width="1" height="64" fill="#ef5350"/><rect x="698" y="483" width="5" height="55" fill="#ef5350"/>
<rect x="706" y="534" width="1" height="62" fill="#ef5350"/><rect x="704" y="538" width="5" height="48" fill="#ef5350"/>
<rect x="712" y="553" width="1" height="41" fill="#26a69a"/><rect x="710" y="570" width="5" height="15" fill="#26a69a"/>
<rect x="718" y="526" width="1" height="45" fill="#26a69a"/><rect x="716" y="536" width="5" height="35" fill="#26a69a"/>
<rect x="723" y="509" width="1" height="67" fill="#26a69a"/><rect x="721" y="522" width="5" height="12" fill="#26a69a"/>
<rect x="729" y="497" width="1" height="55" fill="#26a69a"/><rect x="727" y="503" width="5" height="19" fill="#26a69a"/>
<rect x="735" y="483" width="1" height="32" fill="#26a69a"/><rect x="733" y="487" width="5" height="16" fill="#26a69a"/>
<rect x="741" y="474" width="1" height="43" fill="#ef5350"/><rect x="739" y="487" width="5" height="13" fill="#ef5350"/>
<rect x="747" y="485" width="1" height="94" fill="#ef5350"/><rect x="745" y="498" width="5" height="77" fill="#ef5350"/>
<rect x="753" y="559" width="1" height="37" fill="#ef5350"/><rect x="751" y="575" width="5" height="15" fill="#ef5350"/>
<rect x="759" y="551" width="1" height="40" fill="#26a69a"/><rect x="757" y="557" width="5" height="33" fill="#26a69a"/>
<rect x="765" y="524" width="1" height="33" fill="#26a69a"/><rect x="763" y="536" width="5" height="21" fill="#26a69a"/>
<rect x="771" y="514" width="1" height="49" fill="#ef5350"/><rect x="769" y="535" width="5" height="24" fill="#ef5350"/>
<rect x="776" y="542" width="1" height="45" fill="#ef5350"/><rect x="774" y="558" width="5" height="9" fill="#ef5350"/>
<rect x="782" y="563" width="1" height="24" fill="#ef5350"/><rect x="780" y="565" width="5" height="14" fill="#ef5350"/>
<rect x="788" y="548" width="1" height="45" fill="#26a69a"/><rect x="786" y="557" width="5" height="22" fill="#26a69a"/>
<rect x="794" y="525" width="1" height="34" fill="#26a69a"/><rect x="792" y="542" width="5" height="16" fill="#26a69a"/>
<rect x="800" y="509" width="1" height="72" fill="#ef5350"/><rect x="798" y="542" width="5" height="38" fill="#ef5350"/>
<rect x="806" y="562" width="1" height="45" fill="#26a69a"/><rect x="804" y="569" width="5" height="12" fill="#26a69a"/>
<rect x="812" y="533" width="1" height="38" fill="#26a69a"/><rect x="810" y="561" width="5" height="10" fill="#26a69a"/>
<rect x="818" y="521" width="1" height="40" fill="#26a69a"/><rect x="816" y="530" width="5" height="31" fill="#26a69a"/>
<rect x="823" y="529" width="1" height="45" fill="#ef5350"/><rect x="821" y="531" width="5" height="27" fill="#ef5350"/>
<rect x="829" y="508" width="1" height="57" fill="#26a69a"/><rect x="827" y="510" width="5" height="48" fill="#26a69a"/>
<rect x="835" y="466" width="1" height="45" fill="#26a69a"/><rect x="833" y="484" width="5" height="27" fill="#26a69a"/>
<rect x="841" y="418" width="1" height="75" fill="#26a69a"/><rect x="839" y="426" width="5" height="59" fill="#26a69a"/>
<rect x="847" y="414" width="1" height="29" fill="#ef5350"/><rect x="845" y="423" width="5" height="20" fill="#ef5350"/>
<rect x="853" y="431" width="1" height="75" fill="#ef5350"/><rect x="851" y="438" width="5" height="44" fill="#ef5350"/>
<rect x="859" y="471" width="1" height="40" fill="#ef5350"/><rect x="857" y="481" width="5" height="29" fill="#ef5350"/>
<rect x="865" y="487" width="1" height="50" fill="#ef5350"/><rect x="863" y="509" width="5" height="27" fill="#ef5350"/>
<rect x="870" y="532" width="1" height="22" fill="#ef5350"/><rect x="868" y="534" width="5" height="8" fill="#ef5350"/>
<rect x="876" y="515" width="1" height="29" fill="#26a69a"/><rect x="874" y="527" width="5" height="15" fill="#26a69a"/>
<rect x="882" y="423" width="1" height="116" fill="#26a69a"/><rect x="880" y="430" width="5" height="97" fill="#26a69a"/>
<rect x="888" y="400" width="1" height="45" fill="#26a69a"/><rect x="886" y="425" width="5" height="2" fill="#26a69a"/>
<rect x="894" y="418" width="1" height="44" fill="#ef5350"/><rect x="892" y="426" width="5" height="33" fill="#ef5350"/>
<rect x="900" y="420" width="1" height="48" fill="#26a69a"/><rect x="898" y="422" width="5" height="37" fill="#26a69a"/>
<rect x="906" y="382" width="1" height="49" fill="#26a69a"/><rect x="904" y="391" width="5" height="32" fill="#26a69a"/>
<rect x="912" y="364" width="1" height="34" fill="#ef5350"/><rect x="910" y="390" width="5" height="2" fill="#ef5350"/>
<rect x="918" y="379" width="1" height="36" fill="#ef5350"/><rect x="916" y="389" width="5" height="14" fill="#ef5350"/>
<rect x="923" y="375" width="1" height="27" fill="#26a69a"/><rect x="921" y="389" width="5" height="13" fill="#26a69a"/>
<rect x="929" y="362" width="1" height="31" fill="#26a69a"/><rect x="927" y="370" width="5" height="20" fill="#26a69a"/>
<rect x="935" y="345" width="1" height="36" fill="#26a69a"/><rect x="933" y="351" width="5" height="20" fill="#26a69a"/>
<rect x="941" y="305" width="1" height="53" fill="#26a69a"/><rect x="939" y="319" width="5" height="32" fill="#26a69a"/>
<rect x="947" y="297" width="1" height="54" fill="#ef5350"/><rect x="945" y="318" width="5" height="27" fill="#ef5350"/>
<rect x="953" y="317" width="1" height="61" fill="#ef5350"/><rect x="951" y="344" width="5" height="10" fill="#ef5350"/>
<rect x="959" y="298" width="1" height="58" fill="#26a69a"/><rect x="957" y="299" width="5" height="55" fill="#26a69a"/>
<rect x="965" y="286" width="1" height="67" fill="#ef5350"/><rect x="963" y="301" width="5" height="40" fill="#ef5350"/>
<rect x="970" y="339" width="1" height="59" fill="#ef5350"/><rect x="968" y="342" width="5" height="53" fill="#ef5350"/>
<rect x="976" y="358" width="1" height="39" fill="#ef5350"/><rect x="974" y="393" width="5" height="4" fill="#ef5350"/>
<rect x="982" y="340" width="1" height="72" fill="#26a69a"/><rect x="980" y="355" width="5" height="42" fill="#26a69a"/>
<rect x="988" y="340" width="1" height="47" fill="#ef5350"/><rect x="986" y="357" width="5" height="19" fill="#ef5350"/>
<rect x="994" y="368" width="1" height="26" fill="#ef5350"/><rect x="992" y="373" width="5" height="8" fill="#ef5350"/>
<rect x="1000" y="346" width="1" height="55" fill="#ef5350"/><rect x="998" y="385" width="5" height="3" fill="#ef5350"/>
<rect x="1006" y="299" width="1" height="101" fill="#26a69a"/><rect x="1004" y="310" width="5" height="78" fill="#26a69a"/>
<rect x="1012" y="257" width="1" height="55" fill="#26a69a"/><rect x="1010" y="283" width="5" height="27" fill="#26a69a"/>
<rect x="1017" y="257" width="1" height="50" fill="#26a69a"/><rect x="1015" y="279" width="5" height="3" fill="#26a69a"/>
<rect x="1023" y="252" width="1" height="34" fill="#26a69a"/><rect x="1021" y="275" width="5" height="8" fill="#26a69a"/>
<rect x="1029" y="222" width="1" height="56" fill="#26a69a"/><rect x="1027" y="232" width="5" height="43" fill="#26a69a"/>
<rect x="1035" y="218" width="1" height="42" fill="#ef5350"/><rect x="1033" y="232" width="5" height="26" fill="#ef5350"/>
<rect x="1041" y="199" width="1" height="59" fill="#26a69a"/><rect x="1039" y="203" width="5" height="55" fill="#26a69a"/>
<rect x="1047" y="183" width="1" height="40" fill="#ef5350"/><rect x="1045" y="203" width="5" height="2" fill="#ef5350"/>
<rect x="1053" y="193" width="1" height="27" fill="#26a69a"/><rect x="1051" y="202" width="5" height="2" fill="#26a69a"/>
<rect x="1059" y="182" width="1" height="26" fill="#26a69a"/><rect x="1057" y="186" width="5" height="16" fill="#26a69a"/>
<rect x="1065" y="162" width="1" height="26" fill="#26a69a"/><rect x="1063" y="167" width="5" height="19" fill="#26a69a"/>
<rect x="1070" y="148" width="1" height="36" fill="#ef5350"/><rect x="1068" y="170" width="5" height="13" fill="#ef5350"/>
<rect x="1076" y="167" width="1" height="50" fill="#ef5350"/><rect x="1074" y="181" width="5" height="15" fill="#ef5350"/>
<rect x="1082" y="186" width="1" height="13" fill="#ef5350"/><rect x="1080" y="195" width="5" height="4" fill="#ef5350"/>
<rect x="1088" y="172" width="1" height="63" fill="#ef5350"/><rect x="1086" y="192" width="5" height="42" fill="#ef5350"/>
<rect x="1094" y="225" width="1" height="52" fill="#ef5350"/><rect x="1092" y="234" width="5" height="23" fill="#ef5350"/>
<rect x="1100" y="233" width="1" height="48" fill="#ef5350"/><rect x="1098" y="255" width="5" height="20" fill="#ef5350"/>
<rect x="1106" y="242" width="1" height="82" fill="#26a69a"/><rect x="1104" y="269" width="5" height="6" fill="#26a69a"/>
<rect x="1112" y="252" width="1" height="44" fill="#26a69a"/><rect x="1110" y="267" width="5" height="3" fill="#26a69a"/>
<rect x="1117" y="252" width="1" height="44" fill="#ef5350"/><rect x="1115" y="267" width="5" height="23" fill="#ef5350"/>
<rect x="1123" y="269" width="1" height="26" fill="#26a69a"/><rect x="1121" y="280" width="5" height="10" fill="#26a69a"/>
<rect x="1129" y="259" width="1" height="60" fill="#ef5350"/><rect x="1127" y="283" width="5" height="7" fill="#ef5350"/>
<rect x="1135" y="257" width="1" height="39" fill="#26a69a"/><rect x="1133" y="290" width="5" height="3" fill="#26a69a"/>
<rect x="1141" y="275" width="1" height="42" fill="#ef5350"/><rect x="1139" y="290" width="5" height="21" fill="#ef5350"/>
<rect x="1147" y="309" width="1" height="65" fill="#ef5350"/><rect x="1145" y="311" width="5" height="59" fill="#ef5350"/>
<rect x="1153" y="360" width="1" height="53" fill="#ef5350"/><rect x="1151" y="369" width="5" height="24" fill="#ef5350"/>
<rect x="1159" y="375" width="1" height="37" fill="#26a69a"/><rect x="1157" y="379" width="5" height="15" fill="#26a69a"/>
<rect x="1165" y="355" width="1" height="27" fill="#26a69a"/><rect x="1163" y="360" width="5" height="20" fill="#26a69a"/>
<rect x="1170" y="346" width="1" height="34" fill="#ef5350"/><rect x="1168" y="358" width="5" height="22" fill="#ef5350"/>
<rect x="1176" y="346" width="1" height="46" fill="#26a69a"/><rect x="1174" y="372" width="5" height="8" fill="#26a69a"/>
<rect x="1182" y="339" width="1" height="41" fill="#ef5350"/><rect x="1180" y="372" width="5" height="1" fill="#ef5350"/>
<rect x="1188" y="348" width="1" height="32" fill="#26a69a"/><rect x="1186" y="368" width="5" height="10" fill="#26a69a"/>
<rect x="1194" y="348" width="1" height="30" fill="#ef5350"/><rect x="1192" y="371" width="5" height="7" fill="#ef5350"/>
<rect x="1200" y="343" width="1" height="35" fill="#26a69a"/><rect x="1198" y="347" width="5" height="29" fill="#26a69a"/>
<rect x="1206" y="337" width="1" height="40" fill="#ef5350"/><rect x="1204" y="348" width="5" height="7" fill="#ef5350"/>
<rect x="1212" y="338" width="1" height="55" fill="#ef5350"/><rect x="1210" y="355" width="5" height="29" fill="#ef5350"/>
<rect x="1217" y="372" width="1" height="54" fill="#26a69a"/><rect x="1215" y="379" width="5" height="5" fill="#26a69a"/>
<rect x="1223" y="347" width="1" height="83" fill="#ef5350"/><rect x="1221" y="379" width="5" height="47" fill="#ef5350"/>
<rect x="1229" y="417" width="1" height="39" fill="#ef5350"/><rect x="1227" y="423" width="5" height="23" fill="#ef5350"/>
<rect x="1235" y="413" width="1" height="36" fill="#26a69a"/><rect x="1233" y="414" width="5" height="35" fill="#26a69a"/>
<rect x="1241" y="401" width="1" height="18" fill="#ef5350"/><rect x="1239" y="416" width="5" height="3" fill="#ef5350"/>
<rect x="1247" y="408" width="1" height="39" fill="#ef5350"/><rect x="1245" y="417" width="5" height="24" fill="#ef5350"/>
<rect x="1253" y="406" width="1" height="36" fill="#26a69a"/><rect x="1251" y="416" width="5" height="24" fill="#26a69a"/>
<rect x="1259" y="399" width="1" height="22" fill="#26a69a"/><rect x="1257" y="409" width="5" height="6" fill="#26a69a"/>
<rect x="1264" y="402" width="1" height="74" fill="#ef5350"/><rect x="1262" y="409" width="5" height="62" fill="#ef5350"/>
<rect x="1270" y="435" width="1" height="38" fill="#26a69a"/><rect x="1268" y="442" width="5" height="27" fill="#26a69a"/>
<rect x="1276" y="410" width="1" height="39" fill="#26a69a"/><rect x="1274" y="416" width="5" height="26" fill="#26a69a"/>
<rect x="1282" y="398" width="1" height="35" fill="#26a69a"/><rect x="1280" y="411" width="5" height="6" fill="#26a69a"/>
<rect x="1288" y="392" width="1" height="18" fill="#26a69a"/><rect x="1286" y="404" width="5" height="5" fill="#26a69a"/>
<rect x="1294" y="372" width="1" height="43" fill="#26a69a"/><rect x="1292" y="396" width="5" height="9" fill="#26a69a"/>
<rect x="1300" y="375" width="1" height="32" fill="#26a69a"/><rect x="1298" y="394" width="5" height="4" fill="#26a69a"/>
<rect x="1306" y="359" width="1" height="42" fill="#26a69a"/><rect x="1304" y="392" width="5" height="4" fill="#26a69a"/>
<rect x="1312" y="370" width="1" height="23" fill="#26a69a"/><rect x="1310" y="384" width="5" height="8" fill="#26a69a"/>
<rect x="1317" y="381" width="1" height="26" fill="#ef5350"/><rect x="1315" y="384" width="5" height="21" fill="#ef5350"/>
<rect x="1323" y="388" width="1" height="25" fill="#26a69a"/><rect x="1321" y="399" width="5" height="6" fill="#26a69a"/>
<rect x="1329" y="394" width="1" height="38" fill="#ef5350"/><rect x="1327" y="400" width="5" height="32" fill="#ef5350"/>
</g>
<text x="1349.5" y="125.6" font-size="13.5" font-weight="400" fill="#111" stroke="#111" stroke-width="0.6" textLength="45.5" lengthAdjust="spacing">0.6900</text>
<text x="1349.5" y="289.6" font-size="13" font-weight="400" fill="#f23645" stroke="#f23645" stroke-width="0.6" textLength="45.5" lengthAdjust="spacing">0.6680</text>
<text x="1349" y="366" font-size="14" font-weight="400" fill="#111" stroke="#111" stroke-width="0.55" textLength="129" lengthAdjust="spacing">0.6580 (April 2020)</text>
<text x="1350.5" y="460.5" font-size="14" font-weight="400" fill="#222" stroke="#222" stroke-width="0.3" textLength="52" lengthAdjust="spacing">0.6460</text>
<text x="1349.5" y="530.7" font-size="13" font-weight="400" fill="#111" stroke="#111" stroke-width="0.65" textLength="45.5" lengthAdjust="spacing">0.6365</text>
<text x="1349.5" y="603.3" font-size="13" font-weight="400" fill="#111" stroke="#111" stroke-width="0.65" textLength="45.5" lengthAdjust="spacing">0.6272</text>
<rect x="1502" y="27" width="1" height="794" fill="#2a2e39"/>
<rect x="10" y="794" width="1492" height="1.2" fill="#2a2e39"/>
<rect x="1506" y="30.5" width="58" height="26" rx="4" fill="#fff" stroke="#eceef4" stroke-width="1.5"/>
<text x="1514.7" y="48.5" font-size="12" fill="#131722" textLength="20" lengthAdjust="spacingAndGlyphs">USD</text>
<text x="1510" y="92.0" font-size="12" fill="#5b5f6b" textLength="42" lengthAdjust="spacingAndGlyphs">0.69500</text>
<text x="1510" y="168.5" font-size="12" fill="#5b5f6b" textLength="42" lengthAdjust="spacingAndGlyphs">0.68500</text>
<text x="1510" y="206.8" font-size="12" fill="#5b5f6b" textLength="42" lengthAdjust="spacingAndGlyphs">0.68000</text>
<text x="1510" y="245.1" font-size="12" fill="#5b5f6b" textLength="42" lengthAdjust="spacingAndGlyphs">0.67500</text>
<text x="1510" y="283.3" font-size="12" fill="#5b5f6b" textLength="42" lengthAdjust="spacingAndGlyphs">0.67000</text>
<text x="1510" y="321.6" font-size="12" fill="#5b5f6b" textLength="42" lengthAdjust="spacingAndGlyphs">0.66500</text>
<text x="1510" y="398.1" font-size="12" fill="#5b5f6b" textLength="42" lengthAdjust="spacingAndGlyphs">0.65500</text>
<text x="1510" y="474.6" font-size="12" fill="#5b5f6b" textLength="42" lengthAdjust="spacingAndGlyphs">0.64500</text>
<text x="1510" y="512.9" font-size="12" fill="#5b5f6b" textLength="42" lengthAdjust="spacingAndGlyphs">0.64000</text>
<text x="1510" y="551.2" font-size="12" fill="#5b5f6b" textLength="42" lengthAdjust="spacingAndGlyphs">0.63500</text>
<text x="1510" y="589.4" font-size="12" fill="#5b5f6b" textLength="42" lengthAdjust="spacingAndGlyphs">0.63000</text>
<text x="1510" y="627.7" font-size="12" fill="#5b5f6b" textLength="42" lengthAdjust="spacingAndGlyphs">0.62500</text>
<rect x="1500.5" y="118.5" width="3" height="16.0" fill="#fff"/>
<path d="M1501.5,118.5 H1556 a2,2 0 0 1 2,2 V132.5 a2,2 0 0 1 -2,2 H1501.5 Z" fill="#000"/>
<text x="1510" y="130.8" font-size="12" font-weight="700" fill="#fff" textLength="42" lengthAdjust="spacingAndGlyphs">0.68996</text>
<rect x="1500.5" y="286.5" width="3" height="16.100000000000023" fill="#fff"/>
<path d="M1501.5,286.5 H1556 a2,2 0 0 1 2,2 V300.6 a2,2 0 0 1 -2,2 H1501.5 Z" fill="#f23645"/>
<text x="1510" y="298.9" font-size="12" font-weight="700" fill="#fff" textLength="42" lengthAdjust="spacingAndGlyphs">0.66800</text>
<rect x="1500.5" y="327.4" width="3" height="16.30000000000001" fill="#fff"/>
<path d="M1502.5,327.4 H1556 a2,2 0 0 1 2,2 V341.7 a2,2 0 0 1 -2,2 H1502.5 Z" fill="#2d2df7"/>
<text x="1510" y="339.8" font-size="12" font-weight="700" fill="#fff" textLength="42" lengthAdjust="spacingAndGlyphs">0.66191</text>
<path d="M1501,327.4 H1452 a2,2 0 0 0 -2,2 V341.7 a2,2 0 0 0 2,2 H1501 Z" fill="#2d2df7"/>
<text x="1455.1999999999998" y="339.8" font-size="12" font-weight="700" fill="#fff" textLength="40.4" lengthAdjust="spacingAndGlyphs">SMA:MA</text>
<rect x="1500.5" y="343.7" width="3" height="16.600000000000023" fill="#fff"/>
<path d="M1501.5,343.7 H1556 a2,2 0 0 1 2,2 V358.3 a2,2 0 0 1 -2,2 H1501.5 Z" fill="#000"/>
<text x="1510" y="357.3" font-size="12" font-weight="700" fill="#fff" textLength="42" lengthAdjust="spacingAndGlyphs">0.65802</text>
<rect x="1500.5" y="360" width="3" height="17" fill="#fff"/>
<path d="M1501.5,360 H1556 a2,2 0 0 1 2,2 V375 a2,2 0 0 1 -2,2 H1501.5 Z" fill="#000"/>
<text x="1510" y="373.8" font-size="12" font-weight="700" fill="#fff" textLength="42" lengthAdjust="spacingAndGlyphs">0.65770</text>
<rect x="1500.5" y="378.3" width="3" height="16.30000000000001" fill="#fff"/>
<path d="M1502.5,378.3 H1556 a2,2 0 0 1 2,2 V392.6 a2,2 0 0 1 -2,2 H1502.5 Z" fill="#f23645"/>
<text x="1510" y="390.8" font-size="12" font-weight="700" fill="#fff" textLength="42" lengthAdjust="spacingAndGlyphs">0.65605</text>
<path d="M1501,378.3 H1452 a2,2 0 0 0 -2,2 V392.6 a2,2 0 0 0 2,2 H1501 Z" fill="#f23645"/>
<text x="1455.1999999999998" y="390.8" font-size="12" font-weight="700" fill="#fff" textLength="40.4" lengthAdjust="spacingAndGlyphs">SMA:MA</text>
<rect x="1500.5" y="424" width="3" height="17" fill="#fff"/>
<path d="M1502.5,424 H1560 a2,2 0 0 1 2,2 V453 a2,2 0 0 1 -2,2 H1502.5 Z" fill="#ef5350"/>
<path d="M1501,424 H1450.2 a2,2 0 0 0 -2,2 V438.8 a2,2 0 0 0 2,2 H1501 Z" fill="#ef5350"/>
<text x="1452.9" y="436.7" font-size="12" font-weight="700" fill="#fff" textLength="42.8" lengthAdjust="spacingAndGlyphs">AUDUSD</text>
<text x="1510" y="436.7" font-size="12" font-weight="700" fill="#fff" textLength="42" lengthAdjust="spacingAndGlyphs">0.64997</text>
<text x="1511" y="451" font-size="12" fill="#fff" fill-opacity="0.8" textLength="45" lengthAdjust="spacingAndGlyphs">13:10:45</text>
<rect x="1500.5" y="456.3" width="3" height="16.099999999999966" fill="#fff"/>
<path d="M1501.5,456.3 H1556 a2,2 0 0 1 2,2 V470.4 a2,2 0 0 1 -2,2 H1501.5 Z" fill="#000"/>
<text x="1510" y="468.7" font-size="12" font-weight="700" fill="#fff" textLength="42" lengthAdjust="spacingAndGlyphs">0.64586</text>
<rect x="1500.5" y="527.2" width="3" height="15.799999999999955" fill="#fff"/>
<path d="M1501.5,527.2 H1556 a2,2 0 0 1 2,2 V541 a2,2 0 0 1 -2,2 H1501.5 Z" fill="#000"/>
<text x="1510" y="539.4" font-size="12" font-weight="700" fill="#fff" textLength="42" lengthAdjust="spacingAndGlyphs">0.63658</text>
<rect x="1500.5" y="598.2" width="3" height="16.799999999999955" fill="#fff"/>
<path d="M1501.5,598.2 H1556 a2,2 0 0 1 2,2 V613 a2,2 0 0 1 -2,2 H1501.5 Z" fill="#000"/>
<text x="1510" y="610.9" font-size="12" font-weight="700" fill="#fff" textLength="42" lengthAdjust="spacingAndGlyphs">0.62724</text>
<rect x="1409" y="666.4" width="100" height="16.3" rx="2" fill="#fff"/>
<text x="1413.2" y="678.8" font-size="12" fill="#131722" textLength="82.4" lengthAdjust="spacingAndGlyphs">Regular Bearish</text>
<text x="1510" y="678.8" font-size="12" fill="#131722" textLength="29.3" lengthAdjust="spacingAndGlyphs">45.65</text>
<rect x="1500.5" y="683.4" width="3" height="16.300000000000068" fill="#fff"/>
<path d="M1502.5,683.4 H1542.6 a2,2 0 0 1 2,2 V697.7 a2,2 0 0 1 -2,2 H1502.5 Z" fill="#ffeb3b"/>
<text x="1510" y="695.8" font-size="12" font-weight="400" fill="#131722" textLength="29.3" lengthAdjust="spacingAndGlyphs">44.81</text>
<path d="M1501,683.4 H1423 a2,2 0 0 0 -2,2 V697.7 a2,2 0 0 0 2,2 H1501 Z" fill="#ffeb3b"/>
<text x="1425.6" y="695.8" font-size="12" font-weight="400" fill="#131722" textLength="70" lengthAdjust="spacingAndGlyphs">RSI-based MA</text>
<rect x="1500.5" y="700.4" width="3" height="16.200000000000045" fill="#fff"/>
<path d="M1502.5,700.4 H1542.6 a2,2 0 0 1 2,2 V714.6 a2,2 0 0 1 -2,2 H1502.5 Z" fill="#7e57c2"/>
<text x="1510" y="712.8" font-size="12" font-weight="700" fill="#fff" textLength="29.3" lengthAdjust="spacingAndGlyphs">41.18</text>
<path d="M1501,700.4 H1477 a2,2 0 0 0 -2,2 V714.6 a2,2 0 0 0 2,2 H1501 Z" fill="#7e57c2"/>
<text x="1480.1999999999998" y="712.8" font-size="12" font-weight="700" fill="#fff" textLength="15.4" lengthAdjust="spacingAndGlyphs">RSI</text>
<rect x="1412" y="717.3" width="97" height="16.3" rx="2" fill="#fff"/>
<text x="1417.4" y="729.8" font-size="12" fill="#131722" textLength="78.2" lengthAdjust="spacingAndGlyphs">Regular Bullish</text>
<text x="1510" y="729.8" font-size="12" fill="#131722" textLength="29.3" lengthAdjust="spacingAndGlyphs">33.31</text>
<rect x="1500.5" y="758.3" width="3" height="16.0" fill="#fff"/>
<path d="M1502.5,758.3 H1556 a2,2 0 0 1 2,2 V772.3 a2,2 0 0 1 -2,2 H1502.5 Z" fill="#b2dfdb"/>
<text x="1510" y="770.6" font-size="12" font-weight="400" fill="#3a3e4a" textLength="42" lengthAdjust="spacingAndGlyphs">0.00056</text>
<path d="M1501,758.3 H1439 a2,2 0 0 0 -2,2 V772.3 a2,2 0 0 0 2,2 H1501 Z" fill="#b2dfdb"/>
<text x="1442.6" y="770.6" font-size="12" font-weight="400" fill="#3a3e4a" textLength="53" lengthAdjust="spacingAndGlyphs">Histogram</text>
<rect x="1500.5" y="775" width="3" height="16" fill="#fff"/>
<path d="M1502.5,775 H1562 a2,2 0 0 1 2,2 V789 a2,2 0 0 1 -2,2 H1502.5 Z" fill="#2962ff"/>
<text x="1510" y="787.3" font-size="12" font-weight="700" fill="#fff" textLength="47" lengthAdjust="spacingAndGlyphs">−0.00157</text>
<path d="M1501,775 H1462.4 a2,2 0 0 0 -2,2 V789 a2,2 0 0 0 2,2 H1501 Z" fill="#2962ff"/>
<text x="1465.8" y="787.3" font-size="12" font-weight="700" fill="#fff" textLength="29.8" lengthAdjust="spacingAndGlyphs">MACD</text>
<rect x="1460.4" y="791.6" width="103.6" height="2.4" fill="#ff6d00"/>
<text x="10.4" y="18.6" font-size="12" fill="#131722" textLength="375" lengthAdjust="spacing">Richard_Snow published on TradingView.com, Feb 28, 2024 08:49 UTC</text>
<text x="18" y="46" font-size="12" fill="#131722" textLength="21.5" lengthAdjust="spacingAndGlyphs">SMA</text><text x="46.5" y="46" font-size="12" fill="#f23645" textLength="42" lengthAdjust="spacingAndGlyphs">0.65605</text>
<text x="18" y="63" font-size="12" fill="#131722" textLength="21.5" lengthAdjust="spacingAndGlyphs">SMA</text><text x="46.5" y="63" font-size="12" fill="#2d2df7" textLength="41" lengthAdjust="spacingAndGlyphs">0.66191</text>
<text x="18.5" y="662.3" font-size="12" fill="#474b57" textLength="14.5" lengthAdjust="spacingAndGlyphs">RSI</text><text x="41.8" y="662.3" font-size="12" fill="#7e57c2" textLength="28.7" lengthAdjust="spacingAndGlyphs">41.18</text><text x="79" y="662.3" font-size="12" fill="#fbe242" textLength="27.5" lengthAdjust="spacingAndGlyphs">44.81</text>
<text x="119" y="662" font-size="10" fill="#5d606b" text-anchor="middle">∅</text>
<text x="133.8" y="662" font-size="10" fill="#5d606b" text-anchor="middle">∅</text>
<text x="149.5" y="662" font-size="10" fill="#5d606b" text-anchor="middle">∅</text>
<text x="164.8" y="662" font-size="10" fill="#5d606b" text-anchor="middle">∅</text>
<text x="180" y="662" font-size="10" fill="#5d606b" text-anchor="middle">∅</text>
<text x="194.7" y="662" font-size="10" fill="#5d606b" text-anchor="middle">∅</text>
<text x="18.5" y="759.6" font-size="12" fill="#474b57" textLength="29" lengthAdjust="spacingAndGlyphs">MACD</text><text x="55.8" y="759.6" font-size="12" fill="#b2dfdb" textLength="41.2" lengthAdjust="spacingAndGlyphs">0.00056</text><text x="105.5" y="759.6" font-size="12" fill="#2962ff" textLength="47.5" lengthAdjust="spacingAndGlyphs">−0.00157</text><text x="161" y="759.6" font-size="12" fill="#ff6d00" textLength="47.5" lengthAdjust="spacingAndGlyphs">−0.00213</text>
<text x="42.6" y="811.8" font-size="12" font-weight="400" fill="#474b57" textLength="20.3" lengthAdjust="spacingAndGlyphs">May</text>
<text x="179.2" y="811.8" font-size="12" font-weight="400" fill="#474b57" textLength="17.7" lengthAdjust="spacingAndGlyphs">Jun</text>
<text x="310.1" y="811.8" font-size="12" font-weight="400" fill="#474b57" textLength="14.5" lengthAdjust="spacingAndGlyphs">Jul</text>
<text x="431.2" y="811.8" font-size="12" font-weight="400" fill="#474b57" textLength="19.5" lengthAdjust="spacingAndGlyphs">Aug</text>
<text x="566.8" y="811.8" font-size="12" font-weight="400" fill="#474b57" textLength="19" lengthAdjust="spacingAndGlyphs">Sep</text>
<text x="690.2" y="811.8" font-size="12" font-weight="400" fill="#474b57" textLength="18.5" lengthAdjust="spacingAndGlyphs">Oct</text>
<text x="819.0" y="811.8" font-size="12" font-weight="400" fill="#474b57" textLength="20.5" lengthAdjust="spacingAndGlyphs">Nov</text>
<text x="948.6" y="811.8" font-size="12" font-weight="400" fill="#474b57" textLength="19.5" lengthAdjust="spacingAndGlyphs">Dec</text>
<text x="1068.5" y="811.8" font-size="12" font-weight="700" fill="#474b57" textLength="28" lengthAdjust="spacingAndGlyphs">2024</text>
<text x="1208.0" y="811.8" font-size="12" font-weight="400" fill="#474b57" textLength="18.5" lengthAdjust="spacingAndGlyphs">Feb</text>
<text x="1331.0" y="811.8" font-size="12" font-weight="400" fill="#474b57" textLength="19.5" lengthAdjust="spacingAndGlyphs">Mar</text>
<text x="1455.5" y="811.8" font-size="12" font-weight="400" fill="#474b57" textLength="18.5" lengthAdjust="spacingAndGlyphs">Apr</text>
<path d="M10,834.3 H18 V843.7 H14 V838 H10 Z" fill="#131722"/><circle cx="20.6" cy="836" r="1.5" fill="#131722"/><path d="M24.1,834.3 H29.6 L25.9,843.7 H20.9 Z" fill="#131722"/>
<text x="33.3" y="843.7" font-size="12.6" fill="#131722" textLength="70" lengthAdjust="spacing">TradingView</text>
<defs><filter id="ws" x="-5%" y="-10%" width="110%" height="125%"><feComponentTransfer in="SourceAlpha" result="sa"><feFuncA type="linear" slope="4"/></feComponentTransfer><feOffset in="sa" dx="-0.8" dy="2.2" result="o"/><feGaussianBlur in="o" stdDeviation="0.6" result="b"/><feComposite in="b" in2="sa" operator="out" result="sh"/><feFlood flood-color="#2a2e39" flood-opacity="0.6"/><feComposite in2="sh" operator="in" result="shc"/><feMerge><feMergeNode in="shc"/><feMergeNode in="SourceGraphic"/></feMerge></filter></defs>
<g filter="url(#ws)"><g opacity="0.58"><text transform="translate(1331,814) skewX(-16)" font-family="'Noto Sans CJK SC', 'WenQuanYi Zen Hei', sans-serif" font-weight="900" font-size="60" fill="#fff" stroke="#fff" stroke-width="2.6" stroke-linejoin="round" textLength="246" lengthAdjust="spacing">海马财经</text></g></g>
<text x="1343" y="850.3" font-family="'DejaVu Sans', 'Liberation Sans', sans-serif" font-size="27.5" font-weight="700" font-style="italic" fill="#8fa8f8" stroke="#8fa8f8" stroke-width="0.9" textLength="226" lengthAdjust="spacing">zzrt01.cn</text>
</svg>
</body></html>
